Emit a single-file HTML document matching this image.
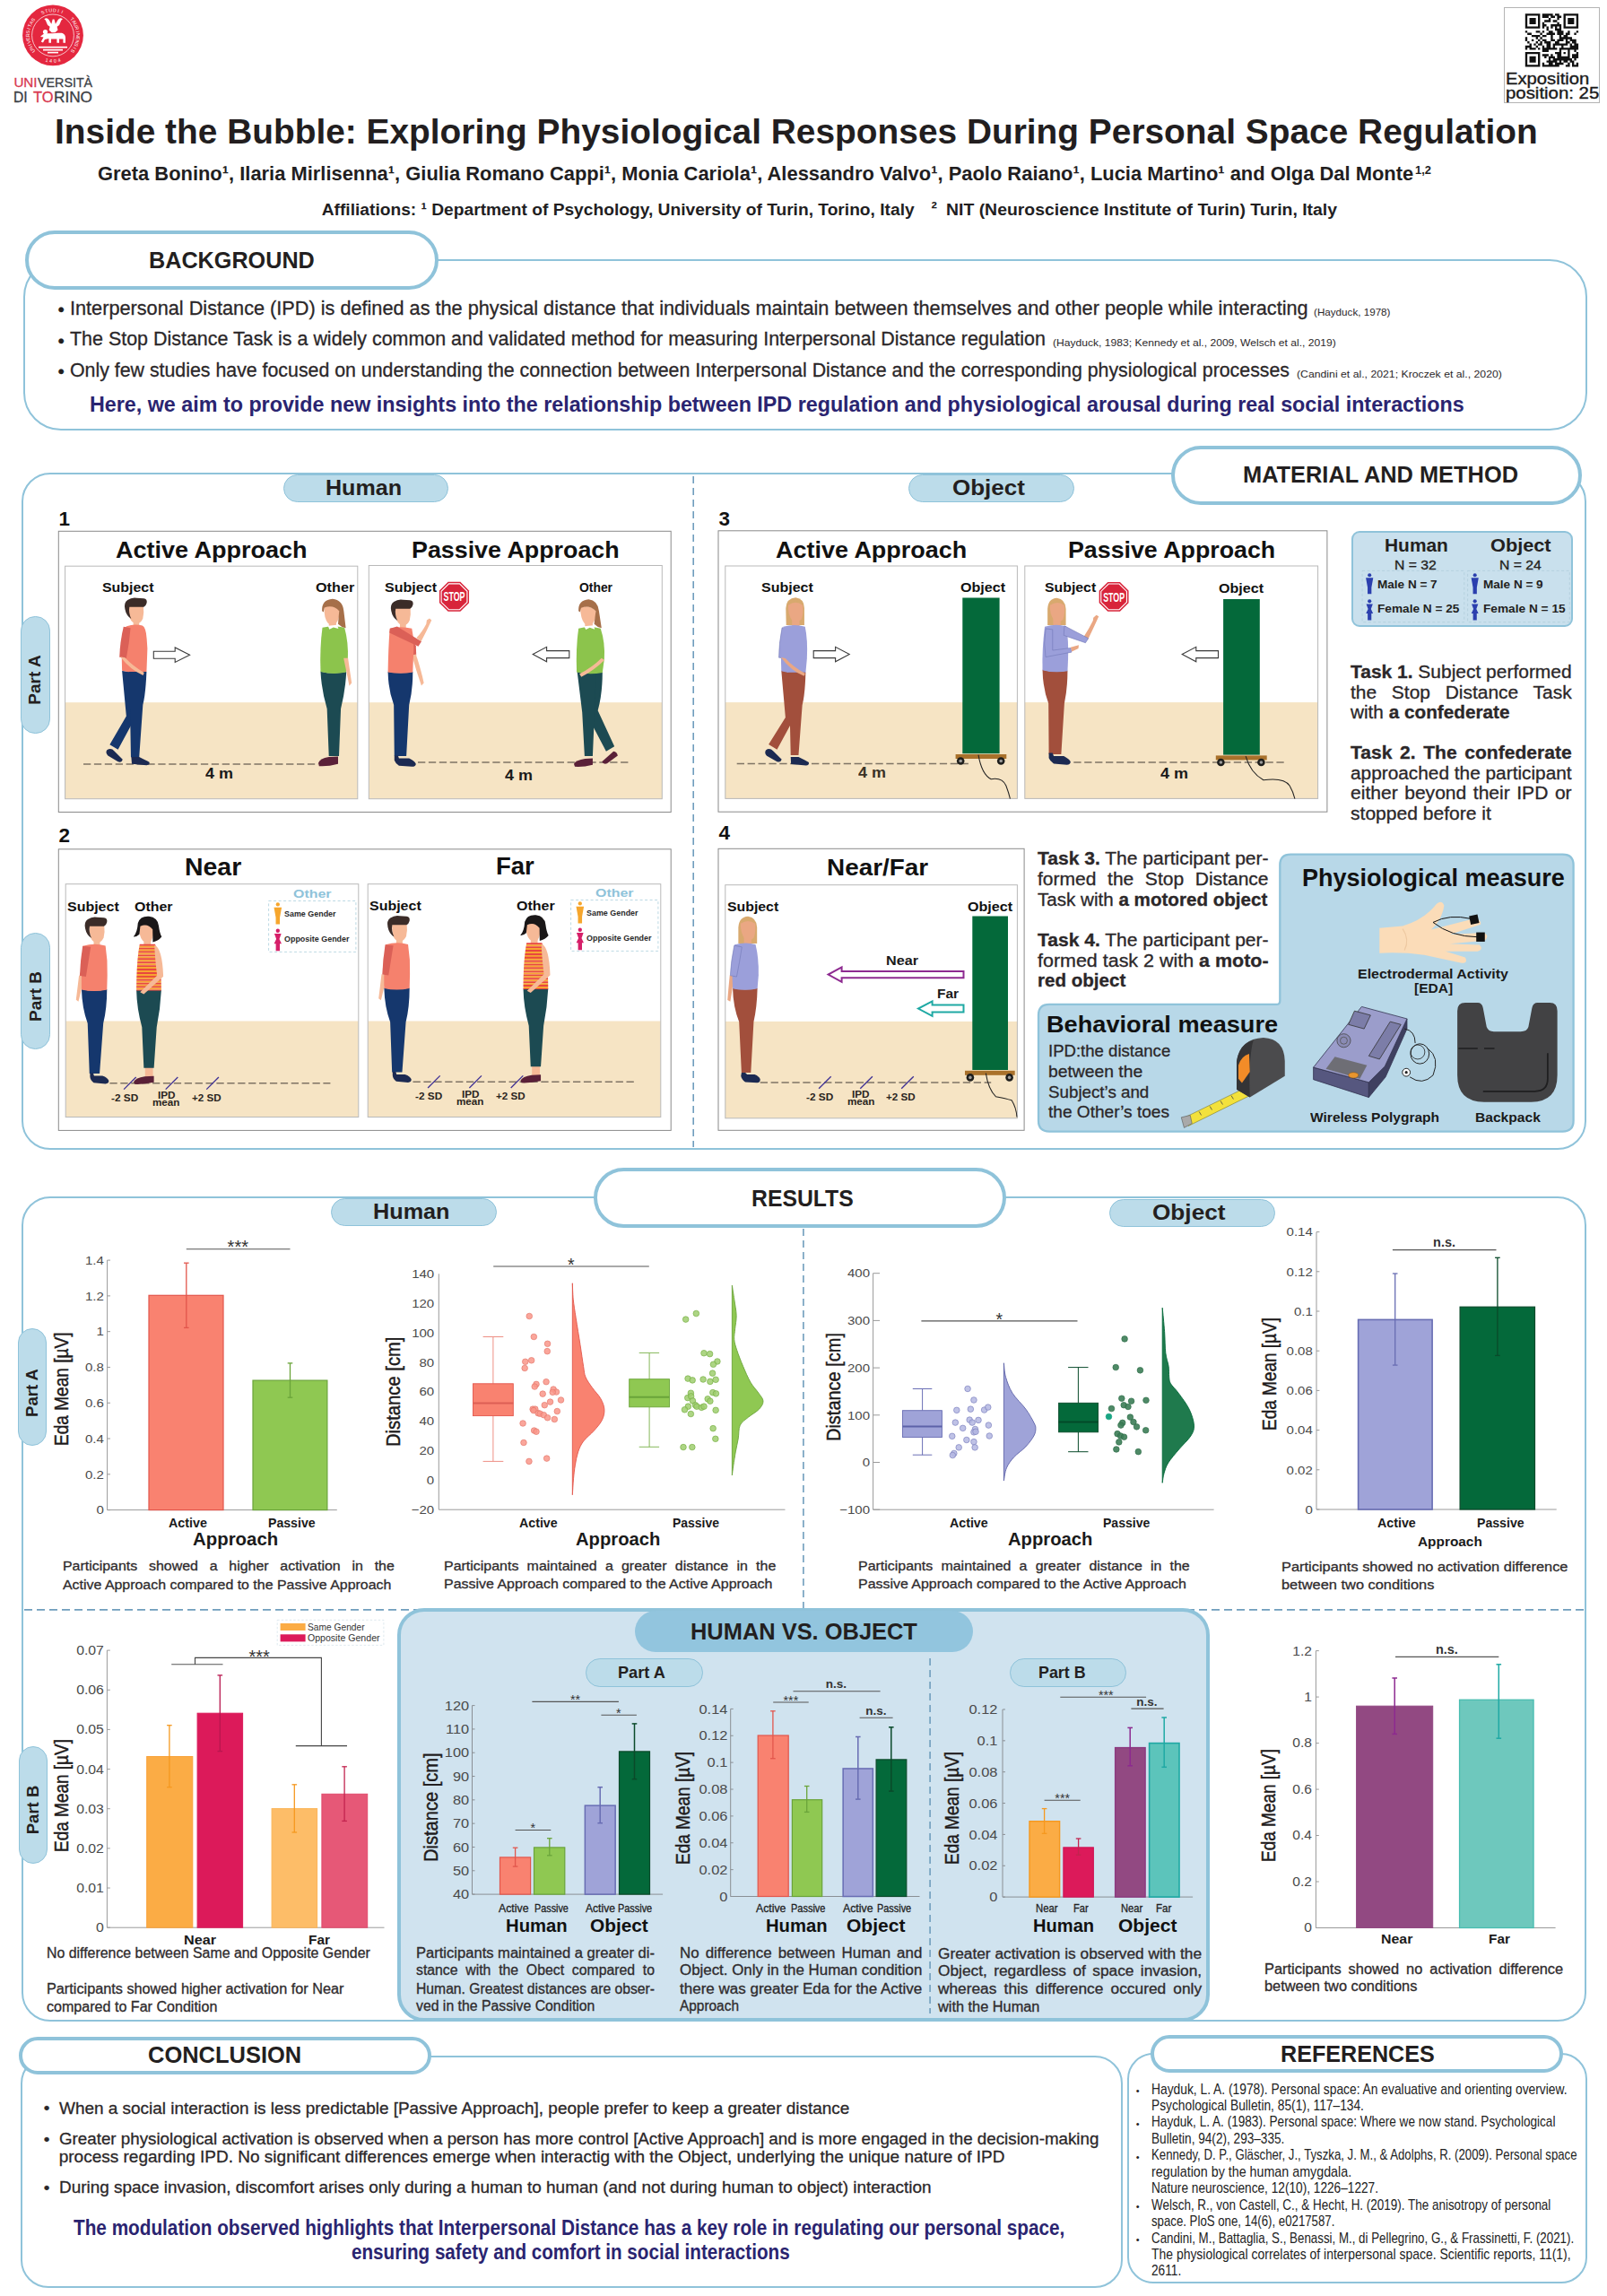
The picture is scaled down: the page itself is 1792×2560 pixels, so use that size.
<!DOCTYPE html>
<html><head><meta charset="utf-8"><title>Inside the Bubble</title>
<style>
html,body{margin:0;padding:0;background:#fff}
body{width:1792px;height:2560px;position:relative;overflow:hidden;font-family:"Liberation Sans",sans-serif}
.a{position:absolute}
.t{position:absolute;white-space:pre;line-height:1;transform-origin:0 0;display:block}
svg{overflow:visible}
svg text{font-family:"Liberation Sans",sans-serif}
</style></head><body>
<svg class="a" style="left:0;top:0" width="240" height="130" viewBox="0 0 240 130">
<circle cx="59" cy="39.4" r="33.9" fill="#e4273f"/>
<circle cx="59" cy="39.4" r="23.4" fill="none" stroke="#fff" stroke-width="0.7"/>
<text x="38.35" y="55.53" transform="rotate(-128.0 38.35 55.53)" text-anchor="middle" font-size="5.3" font-family="Liberation Sans, sans-serif" fill="#fff">U</text><text x="36.40" y="52.66" transform="rotate(-120.4 36.40 52.66)" text-anchor="middle" font-size="5.3" font-family="Liberation Sans, sans-serif" fill="#fff">N</text><text x="34.85" y="49.55" transform="rotate(-112.8 34.85 49.55)" text-anchor="middle" font-size="5.3" font-family="Liberation Sans, sans-serif" fill="#fff">I</text><text x="33.72" y="46.27" transform="rotate(-105.2 33.72 46.27)" text-anchor="middle" font-size="5.3" font-family="Liberation Sans, sans-serif" fill="#fff">V</text><text x="33.03" y="42.87" transform="rotate(-97.6 33.03 42.87)" text-anchor="middle" font-size="5.3" font-family="Liberation Sans, sans-serif" fill="#fff">E</text><text x="32.80" y="39.40" transform="rotate(-90.0 32.80 39.40)" text-anchor="middle" font-size="5.3" font-family="Liberation Sans, sans-serif" fill="#fff">R</text><text x="33.03" y="35.93" transform="rotate(-82.4 33.03 35.93)" text-anchor="middle" font-size="5.3" font-family="Liberation Sans, sans-serif" fill="#fff">S</text><text x="33.72" y="32.53" transform="rotate(-74.8 33.72 32.53)" text-anchor="middle" font-size="5.3" font-family="Liberation Sans, sans-serif" fill="#fff">I</text><text x="34.85" y="29.25" transform="rotate(-67.2 34.85 29.25)" text-anchor="middle" font-size="5.3" font-family="Liberation Sans, sans-serif" fill="#fff">T</text><text x="36.40" y="26.14" transform="rotate(-59.6 36.40 26.14)" text-anchor="middle" font-size="5.3" font-family="Liberation Sans, sans-serif" fill="#fff">A</text><text x="38.35" y="23.27" transform="rotate(-52.0 38.35 23.27)" text-anchor="middle" font-size="5.3" font-family="Liberation Sans, sans-serif" fill="#fff">S</text><text x="48.34" y="15.47" transform="rotate(-24.0 48.34 15.47)" text-anchor="middle" font-size="5.3" font-family="Liberation Sans, sans-serif" fill="#fff">S</text><text x="52.31" y="14.07" transform="rotate(-14.8 52.31 14.07)" text-anchor="middle" font-size="5.3" font-family="Liberation Sans, sans-serif" fill="#fff">T</text><text x="56.44" y="13.33" transform="rotate(-5.6 56.44 13.33)" text-anchor="middle" font-size="5.3" font-family="Liberation Sans, sans-serif" fill="#fff">U</text><text x="60.65" y="13.25" transform="rotate(3.6 60.65 13.25)" text-anchor="middle" font-size="5.3" font-family="Liberation Sans, sans-serif" fill="#fff">D</text><text x="64.80" y="13.85" transform="rotate(12.8 64.80 13.85)" text-anchor="middle" font-size="5.3" font-family="Liberation Sans, sans-serif" fill="#fff">I</text><text x="68.81" y="15.11" transform="rotate(22.0 68.81 15.11)" text-anchor="middle" font-size="5.3" font-family="Liberation Sans, sans-serif" fill="#fff">I</text><text x="79.07" y="22.56" transform="rotate(50.0 79.07 22.56)" text-anchor="middle" font-size="5.3" font-family="Liberation Sans, sans-serif" fill="#fff">T</text><text x="81.17" y="25.44" transform="rotate(57.8 81.17 25.44)" text-anchor="middle" font-size="5.3" font-family="Liberation Sans, sans-serif" fill="#fff">A</text><text x="82.86" y="28.58" transform="rotate(65.6 82.86 28.58)" text-anchor="middle" font-size="5.3" font-family="Liberation Sans, sans-serif" fill="#fff">U</text><text x="84.11" y="31.91" transform="rotate(73.4 84.11 31.91)" text-anchor="middle" font-size="5.3" font-family="Liberation Sans, sans-serif" fill="#fff">R</text><text x="84.89" y="35.39" transform="rotate(81.2 84.89 35.39)" text-anchor="middle" font-size="5.3" font-family="Liberation Sans, sans-serif" fill="#fff">I</text><text x="85.20" y="38.94" transform="rotate(89.0 85.20 38.94)" text-anchor="middle" font-size="5.3" font-family="Liberation Sans, sans-serif" fill="#fff">N</text><text x="85.02" y="42.50" transform="rotate(96.8 85.02 42.50)" text-anchor="middle" font-size="5.3" font-family="Liberation Sans, sans-serif" fill="#fff">E</text><text x="84.35" y="46.00" transform="rotate(104.6 84.35 46.00)" text-anchor="middle" font-size="5.3" font-family="Liberation Sans, sans-serif" fill="#fff">N</text><text x="83.22" y="49.38" transform="rotate(112.4 83.22 49.38)" text-anchor="middle" font-size="5.3" font-family="Liberation Sans, sans-serif" fill="#fff">S</text><text x="81.64" y="52.58" transform="rotate(120.2 81.64 52.58)" text-anchor="middle" font-size="5.3" font-family="Liberation Sans, sans-serif" fill="#fff">I</text><text x="79.65" y="55.53" transform="rotate(128.0 79.65 55.53)" text-anchor="middle" font-size="5.3" font-family="Liberation Sans, sans-serif" fill="#fff">S</text><text x="51.67" y="68.80" transform="rotate(374.0 51.67 68.80)" text-anchor="middle" font-size="5.3" font-family="Liberation Sans, sans-serif" fill="#fff">1</text><text x="56.53" y="69.60" transform="rotate(364.7 56.53 69.60)" text-anchor="middle" font-size="5.3" font-family="Liberation Sans, sans-serif" fill="#fff">4</text><text x="61.47" y="69.60" transform="rotate(355.3 61.47 69.60)" text-anchor="middle" font-size="5.3" font-family="Liberation Sans, sans-serif" fill="#fff">0</text><text x="66.33" y="68.80" transform="rotate(346.0 66.33 68.80)" text-anchor="middle" font-size="5.3" font-family="Liberation Sans, sans-serif" fill="#fff">4</text>
<g fill="#fff">
<path d="M49.300 21.200q3-2.200 5.200.8l2.800 4.800 1.400-5.300h1.800l1.400 5.300 2.800-4.800q2.200-3 5.200-.8-2 .9-2.500 3.800-.5 3-3.800 4.800l.9 3.800-3 2.600h-3.800l-3-2.600.9-3.800q-3.300-1.800-3.800-4.800-.5-2.900-2.500-3.800z"/>
<path d="M45 41c2-3 5-4.200 8-3.800 4 .5 10-.4 14.500-.4 3 0 5.500 2 5.500 5v6h-2.600v-4.300h-4.400v4.300h-2.600v-4.300h-6.400v4.300h-2.600v-4.800l-4.400 1-2 3.500-2.200-1 2.700-5z"/>
<circle cx="50.500" cy="35.500" r="2.600"/>
<rect x="43" y="51.800" width="32" height="1.700"/><rect x="48" y="54.800" width="22" height="1.700"/><rect x="53" y="57.800" width="12" height="1.600"/>
</g>
</svg>
<span class="t" style="left:15.4px;top:83.5px;font-size:15.2px;color:#d8374f;-webkit-text-stroke:0.3px #d8374f;">UNI</span>
<span class="t" style="left:41.8px;top:83.5px;font-size:15.2px;color:#3b4045;transform:scaleX(0.9410);-webkit-text-stroke:0.3px #3b4045;">VERSITÀ</span>
<span class="t" style="left:15.4px;top:101.2px;font-size:15.8px;color:#3b4045;transform:scaleX(0.9873);-webkit-text-stroke:0.3px #3b4045;">DI</span>
<span class="t" style="left:37.0px;top:101.2px;font-size:15.8px;color:#d8374f;transform:scaleX(1.0390);-webkit-text-stroke:0.3px #d8374f;">TO</span>
<span class="t" style="left:60.0px;top:101.2px;font-size:15.8px;color:#3b4045;transform:scaleX(1.0886);-webkit-text-stroke:0.3px #3b4045;">RINO</span>
<div class="a" style="left:1677.100px;top:8.200px;width:106.800px;height:106.400px;border:1px solid #b4b4b4;box-sizing:border-box"></div>
<svg class="a" style="left:0;top:0" width="1792" height="130"><path d="M1700.80 15.20h16.60v2.42h-16.60zM1719.78 15.20h11.86v2.42h-11.86zM1734.01 15.20h4.74v2.42h-4.74zM1743.50 15.20h16.60v2.42h-16.60zM1700.80 17.57h2.37v2.42h-2.37zM1715.03 17.57h2.37v2.42h-2.37zM1719.78 17.57h7.12v2.42h-7.12zM1729.26 17.57h4.74v2.42h-4.74zM1736.38 17.57h4.74v2.42h-4.74zM1743.50 17.57h2.37v2.42h-2.37zM1757.73 17.57h2.37v2.42h-2.37zM1700.80 19.94h2.37v2.42h-2.37zM1705.54 19.94h7.12v2.42h-7.12zM1715.03 19.94h2.37v2.42h-2.37zM1726.89 19.94h2.37v2.42h-2.37zM1736.38 19.94h2.37v2.42h-2.37zM1743.50 19.94h2.37v2.42h-2.37zM1748.24 19.94h7.12v2.42h-7.12zM1757.73 19.94h2.37v2.42h-2.37zM1700.80 22.32h2.37v2.42h-2.37zM1705.54 22.32h7.12v2.42h-7.12zM1715.03 22.32h2.37v2.42h-2.37zM1722.15 22.32h7.12v2.42h-7.12zM1731.64 22.32h4.74v2.42h-4.74zM1743.50 22.32h2.37v2.42h-2.37zM1748.24 22.32h7.12v2.42h-7.12zM1757.73 22.32h2.37v2.42h-2.37zM1700.80 24.69h2.37v2.42h-2.37zM1705.54 24.69h7.12v2.42h-7.12zM1715.03 24.69h2.37v2.42h-2.37zM1719.78 24.69h2.37v2.42h-2.37zM1736.38 24.69h2.37v2.42h-2.37zM1743.50 24.69h2.37v2.42h-2.37zM1748.24 24.69h7.12v2.42h-7.12zM1757.73 24.69h2.37v2.42h-2.37zM1700.80 27.06h2.37v2.42h-2.37zM1715.03 27.06h2.37v2.42h-2.37zM1719.78 27.06h4.74v2.42h-4.74zM1729.26 27.06h11.86v2.42h-11.86zM1743.50 27.06h2.37v2.42h-2.37zM1757.73 27.06h2.37v2.42h-2.37zM1700.80 29.43h16.60v2.42h-16.60zM1719.78 29.43h2.37v2.42h-2.37zM1724.52 29.43h2.37v2.42h-2.37zM1729.26 29.43h2.37v2.42h-2.37zM1734.01 29.43h2.37v2.42h-2.37zM1738.75 29.43h2.37v2.42h-2.37zM1743.50 29.43h16.60v2.42h-16.60zM1724.52 31.80h2.37v2.42h-2.37zM1734.01 31.80h7.12v2.42h-7.12zM1700.80 34.18h2.37v2.42h-2.37zM1712.66 34.18h4.74v2.42h-4.74zM1719.78 34.18h2.37v2.42h-2.37zM1726.89 34.18h4.74v2.42h-4.74zM1736.38 34.18h7.12v2.42h-7.12zM1748.24 34.18h2.37v2.42h-2.37zM1757.73 34.18h2.37v2.42h-2.37zM1703.17 36.55h4.74v2.42h-4.74zM1717.40 36.55h2.37v2.42h-2.37zM1724.52 36.55h9.49v2.42h-9.49zM1736.38 36.55h7.12v2.42h-7.12zM1745.87 36.55h4.74v2.42h-4.74zM1755.36 36.55h2.37v2.42h-2.37zM1707.92 38.92h9.49v2.42h-9.49zM1719.78 38.92h4.74v2.42h-4.74zM1729.26 38.92h2.37v2.42h-2.37zM1738.75 38.92h2.37v2.42h-2.37zM1743.50 38.92h4.74v2.42h-4.74zM1700.80 41.29h2.37v2.42h-2.37zM1712.66 41.29h2.37v2.42h-2.37zM1717.40 41.29h2.37v2.42h-2.37zM1729.26 41.29h2.37v2.42h-2.37zM1738.75 41.29h14.23v2.42h-14.23zM1700.80 43.66h2.37v2.42h-2.37zM1707.92 43.66h2.37v2.42h-2.37zM1715.03 43.66h2.37v2.42h-2.37zM1719.78 43.66h4.74v2.42h-4.74zM1729.26 43.66h4.74v2.42h-4.74zM1736.38 43.66h7.12v2.42h-7.12zM1745.87 43.66h2.37v2.42h-2.37zM1750.61 43.66h7.12v2.42h-7.12zM1703.17 46.04h2.37v2.42h-2.37zM1712.66 46.04h2.37v2.42h-2.37zM1717.40 46.04h2.37v2.42h-2.37zM1722.15 46.04h7.12v2.42h-7.12zM1734.01 46.04h4.74v2.42h-4.74zM1745.87 46.04h4.74v2.42h-4.74zM1752.98 46.04h4.74v2.42h-4.74zM1705.54 48.41h2.37v2.42h-2.37zM1710.29 48.41h2.37v2.42h-2.37zM1715.03 48.41h4.74v2.42h-4.74zM1724.52 48.41h4.74v2.42h-4.74zM1731.64 48.41h16.60v2.42h-16.60zM1750.61 48.41h2.37v2.42h-2.37zM1755.36 48.41h4.74v2.42h-4.74zM1700.80 50.78h7.12v2.42h-7.12zM1712.66 50.78h2.37v2.42h-2.37zM1719.78 50.78h2.37v2.42h-2.37zM1724.52 50.78h4.74v2.42h-4.74zM1731.64 50.78h2.37v2.42h-2.37zM1741.12 50.78h2.37v2.42h-2.37zM1750.61 50.78h9.49v2.42h-9.49zM1700.80 53.15h2.37v2.42h-2.37zM1705.54 53.15h7.12v2.42h-7.12zM1715.03 53.15h2.37v2.42h-2.37zM1719.78 53.15h16.60v2.42h-16.60zM1738.75 53.15h21.35v2.42h-21.35zM1719.78 55.52h7.12v2.42h-7.12zM1738.75 55.52h2.37v2.42h-2.37zM1748.24 55.52h2.37v2.42h-2.37zM1755.36 55.52h2.37v2.42h-2.37zM1700.80 57.90h16.60v2.42h-16.60zM1734.01 57.90h7.12v2.42h-7.12zM1743.50 57.90h2.37v2.42h-2.37zM1748.24 57.90h2.37v2.42h-2.37zM1757.73 57.90h2.37v2.42h-2.37zM1700.80 60.27h2.37v2.42h-2.37zM1715.03 60.27h2.37v2.42h-2.37zM1719.78 60.27h7.12v2.42h-7.12zM1729.26 60.27h2.37v2.42h-2.37zM1736.38 60.27h4.74v2.42h-4.74zM1748.24 60.27h2.37v2.42h-2.37zM1752.98 60.27h7.12v2.42h-7.12zM1700.80 62.64h2.37v2.42h-2.37zM1705.54 62.64h7.12v2.42h-7.12zM1715.03 62.64h2.37v2.42h-2.37zM1722.15 62.64h2.37v2.42h-2.37zM1726.89 62.64h7.12v2.42h-7.12zM1736.38 62.64h14.23v2.42h-14.23zM1752.98 62.64h7.12v2.42h-7.12zM1700.80 65.01h2.37v2.42h-2.37zM1705.54 65.01h7.12v2.42h-7.12zM1715.03 65.01h2.37v2.42h-2.37zM1726.89 65.01h2.37v2.42h-2.37zM1731.64 65.01h21.35v2.42h-21.35zM1755.36 65.01h2.37v2.42h-2.37zM1700.80 67.38h2.37v2.42h-2.37zM1705.54 67.38h7.12v2.42h-7.12zM1715.03 67.38h2.37v2.42h-2.37zM1724.52 67.38h11.86v2.42h-11.86zM1738.75 67.38h2.37v2.42h-2.37zM1743.50 67.38h4.74v2.42h-4.74zM1750.61 67.38h4.74v2.42h-4.74zM1700.80 69.76h2.37v2.42h-2.37zM1715.03 69.76h2.37v2.42h-2.37zM1719.78 69.76h2.37v2.42h-2.37zM1726.89 69.76h4.74v2.42h-4.74zM1734.01 69.76h9.49v2.42h-9.49zM1748.24 69.76h2.37v2.42h-2.37zM1752.98 69.76h2.37v2.42h-2.37zM1757.73 69.76h2.37v2.42h-2.37zM1700.80 72.13h16.60v2.42h-16.60zM1719.78 72.13h18.98v2.42h-18.98zM1745.87 72.13h4.74v2.42h-4.74zM1752.98 72.13h7.12v2.42h-7.12z" fill="#111"/></svg>
<span class="t" style="left:1678.7px;top:79.6px;font-size:17.6px;color:#1a1a1a;transform:scaleX(1.1489);-webkit-text-stroke:0.35px #1a1a1a;">Exposition</span>
<span class="t" style="left:1678.7px;top:95.6px;font-size:17.6px;color:#1a1a1a;transform:scaleX(1.1586);-webkit-text-stroke:0.35px #1a1a1a;">position: 25</span>
<span class="t" style="left:60.5px;top:127.7px;font-size:38.4px;color:#221e1f;font-weight:700;transform:scaleX(1.0121);">Inside the Bubble: Exploring Physiological Responses During Personal Space Regulation</span>
<span class="t" style="left:109.0px;top:183.1px;font-size:22.3px;color:#221e1f;font-weight:700;transform:scaleX(0.9825);">Greta Bonino¹, Ilaria Mirlisenna¹, Giulia Romano Cappi¹, Monia Cariola¹, Alessandro Valvo¹, Paolo Raiano¹, Lucia Martino¹ and Olga Dal Monte</span>
<span class="t" style="left:1577.6px;top:183.9px;font-size:12.5px;color:#221e1f;font-weight:700;transform:scaleX(1.0359);">1,2</span>
<span class="t" style="left:358.7px;top:223.5px;font-size:19.2px;color:#221e1f;font-weight:700;">Affiliations: ¹ Department of Psychology, University of Turin, Torino, Italy</span>
<span class="t" style="left:1038.5px;top:223.0px;font-size:19.2px;color:#221e1f;font-weight:700;">²</span>
<span class="t" style="left:1055.4px;top:223.5px;font-size:19.2px;color:#221e1f;font-weight:700;transform:scaleX(1.0116);">NIT (Neuroscience Institute of Turin) Turin, Italy</span>
<div class="a" style="left:25.5px;top:288.5px;width:1744px;height:191px;border:2.6px solid #8fc3da;border-radius:42px;box-sizing:border-box"></div>
<div class="a" style="left:28px;top:257px;width:460.500px;height:66px;border:4.6px solid #8fc3da;border-radius:33px;box-sizing:border-box;background:#fff"></div>
<span class="t" style="left:166.2px;top:276.9px;font-size:26.3px;color:#231f20;font-weight:700;transform:scaleX(0.9582);">BACKGROUND</span>
<span class="t" style="left:64.5px;top:334.0px;font-size:21px;color:#231f20;-webkit-text-stroke:0.3px #231f20;">•</span>
<span class="t" style="left:78.4px;top:332.7px;font-size:22px;color:#2b2729;transform:scaleX(0.9860);-webkit-text-stroke:0.3px #2b2729;">Interpersonal Distance (IPD) is defined as the physical distance that individuals maintain between themselves and other people while interacting</span>
<span class="t" style="left:1464.5px;top:342.9px;font-size:11.3px;color:#2b2729;transform:scaleX(1.0313);">(Hayduck, 1978)</span>
<span class="t" style="left:64.5px;top:368.5px;font-size:21px;color:#231f20;-webkit-text-stroke:0.3px #231f20;">•</span>
<span class="t" style="left:78.4px;top:367.2px;font-size:22px;color:#2b2729;transform:scaleX(0.9748);-webkit-text-stroke:0.3px #2b2729;">The Stop Distance Task is a widely common and validated method for measuring Interpersonal Distance regulation</span>
<span class="t" style="left:1174.2px;top:377.4px;font-size:11.3px;color:#2b2729;transform:scaleX(1.0704);">(Hayduck, 1983; Kennedy et al., 2009, Welsch et al., 2019)</span>
<span class="t" style="left:64.5px;top:403.1px;font-size:21px;color:#231f20;-webkit-text-stroke:0.3px #231f20;">•</span>
<span class="t" style="left:78.4px;top:401.8px;font-size:22px;color:#2b2729;transform:scaleX(0.9695);-webkit-text-stroke:0.3px #2b2729;">Only few studies have focused on understanding the connection between Interpersonal Distance and the corresponding physiological processes</span>
<span class="t" style="left:1446.0px;top:412.0px;font-size:11.3px;color:#2b2729;transform:scaleX(1.0846);">(Candini et al., 2021; Kroczek et al., 2020)</span>
<span class="t" style="left:100.0px;top:439.9px;font-size:23.3px;color:#2a2470;font-weight:700;">Here, we aim to provide new insights into the relationship between IPD regulation and physiological arousal during real social interactions</span>
<div class="a" style="left:23.900px;top:527px;width:1745px;height:755.300px;border:2.700px solid #8fc3da;border-radius:32px;box-sizing:border-box"></div>
<div class="a" style="left:1305.500px;top:497px;width:458.500px;height:65.500px;border:4.600px solid #8fc3da;border-radius:33px;box-sizing:border-box;background:#fff"></div>
<span class="t" style="left:1386.0px;top:516.1px;font-size:26.3px;color:#231f20;font-weight:700;transform:scaleX(0.9654);">MATERIAL AND METHOD</span>
<div class="a" style="left:316.3px;top:528.5px;width:184px;height:31.5px;background:#bcdcea;border:1.600px solid #8fc3da;border-radius:15.75px;box-sizing:border-box"></div>
<span class="t" style="left:363.0px;top:531.5px;font-size:24.5px;color:#231f20;font-weight:700;transform:scaleX(1.0237);">Human</span>
<div class="a" style="left:1013px;top:528.5px;width:184.5px;height:31.5px;background:#bcdcea;border:1.600px solid #8fc3da;border-radius:15.75px;box-sizing:border-box"></div>
<span class="t" style="left:1061.8px;top:531.5px;font-size:24.5px;color:#231f20;font-weight:700;transform:scaleX(1.0611);">Object</span>
<div class="a" style="left:23.3px;top:686.6px;width:32.3px;height:131px;background:#bcdcea;border:1.600px solid #8fc3da;border-radius:16.15px;box-sizing:border-box"></div>
<div class="a" style="left:-20.549999999999997px;top:746.1px;width:120px;height:24px;line-height:24px;text-align:center;font-weight:700;font-size:19px;color:#231f20;transform:rotate(-90deg)">Part A</div>
<div class="a" style="left:23.3px;top:1039.9px;width:32.5px;height:130.5px;background:#bcdcea;border:1.600px solid #8fc3da;border-radius:16.25px;box-sizing:border-box"></div>
<div class="a" style="left:-20.450000000000003px;top:1099.15px;width:120px;height:24px;line-height:24px;text-align:center;font-weight:700;font-size:19px;color:#231f20;transform:rotate(-90deg)">Part B</div>
<svg class="a" style="left:0;top:0" width="1792" height="1300"><line x1="773.200" y1="531" x2="773.200" y2="1279" stroke="#6f9dbd" stroke-width="1.600" stroke-dasharray="8 5"/></svg>
<span class="t" style="left:65.6px;top:567.6px;font-size:22.5px;color:#111;font-weight:700;">1</span>
<span class="t" style="left:65.6px;top:921.0px;font-size:22.5px;color:#111;font-weight:700;">2</span>
<span class="t" style="left:801.6px;top:568.2px;font-size:22.5px;color:#111;font-weight:700;">3</span>
<span class="t" style="left:801.6px;top:917.6px;font-size:22.5px;color:#111;font-weight:700;">4</span>
<svg class="a" style="left:0;top:0" width="1792" height="1300" viewBox="0 0 1792 1300"><rect x="65.3" y="592.3" width="682.9000000000001" height="313.20000000000005" fill="#fff" stroke="#8a8a8a" stroke-width="1"/><rect x="65.3" y="946.8" width="682.9000000000001" height="313.60000000000014" fill="#fff" stroke="#8a8a8a" stroke-width="1"/><rect x="801" y="591.8" width="678.9000000000001" height="313.4000000000001" fill="#fff" stroke="#8a8a8a" stroke-width="1"/><rect x="801" y="946.3" width="341.0999999999999" height="314.0" fill="#fff" stroke="#8a8a8a" stroke-width="1"/><rect x="72.6" y="631.2" width="326.20000000000005" height="259.5" fill="#fff"/><rect x="72.6" y="783.2" width="326.20000000000005" height="107.5" fill="#f6e4c4"/><rect x="72.6" y="631.2" width="326.20000000000005" height="259.5" fill="none" stroke="#b9b9b9" stroke-width="1"/><line x1="93" y1="851.9" x2="355" y2="851.9" stroke="#7f7364" stroke-width="1.5" stroke-dasharray="8.300 3.600"/><g transform="translate(70.00 630.00) scale(0.20534) "><path d="M322 575 L402 585 L382 850 L300 1002 L255 975 L345 820Z" fill="#15376d"/><path d="M240 1005 Q262 990 280 1010 L325 1055 Q320 1075 300 1068 L245 1035 Q230 1020 240 1005Z" fill="#1c2a52"/><path d="M383 300 h32 v38 h-32z" fill="#f6b997"/><path d="M347 332 Q390 318 432 329 Q452 338 456 400 Q462 450 458 500 L455 580 Q390 592 322 574 Q318 450 323 385 Q326 342 347 332Z" fill="#f5816d"/><path d="M358 580 L455 580 Q450 700 435 760 L415 1044 L370 1044 L365 760Z" fill="#15376d"/><path d="M330 335 Q310 420 308 500 L345 506 Q362 420 368 342Z" fill="#db6057"/><path d="M372 1042 L415 1042 Q450 1060 470 1070 Q475 1085 455 1087 L375 1080Z" fill="#1c2a52"/><path d="M312 498 L338 503 Q380 548 442 585 L436 599 Q368 570 312 498Z" fill="#f6b997"/><path d="M358 222 L438 222 Q442 260 435 290 Q425 318 400 318 Q375 315 365 290 Q355 260 358 222Z" fill="#f6b997"/><path d="M338 240 Q330 205 352 190 Q375 174 402 179 L440 181 Q460 184 456 206 Q452 222 440 228 L362 228 Q356 260 372 292 Q345 276 338 240Z" fill="#3b2c28"/></g><g transform="translate(70.00 630.00) scale(0.20534) "><path d="M1445 308 h40 v36 h-40z" fill="#f6b997"/><path d="M1400 578 Q1470 595 1540 580 Q1535 680 1510 780 L1500 1037 L1445 1037 L1435 780 Q1405 680 1400 578Z" fill="#1c4a52"/><path d="M1410 340 Q1470 325 1530 340 Q1552 420 1548 510 L1538 582 Q1470 597 1400 580 Q1395 450 1410 340Z" fill="#8cc44c"/><path d="M1525 505 L1549 505 Q1560 580 1569 640 L1556 656 Q1545 600 1525 505Z" fill="#f6b997"/><path d="M1440 330 L1490 325 L1497 346 L1470 338 L1448 349Z" fill="#fff"/><path d="M1388 1075 Q1395 1050 1445 1042 L1495 1040 L1495 1080 Q1440 1095 1392 1092Z" fill="#5a2038"/><path d="M1420 228 Q1470 212 1502 245 Q1505 290 1485 315 Q1460 330 1440 315 Q1418 290 1420 228Z" fill="#f6b997"/><path d="M1408 250 Q1405 188 1465 184 Q1520 190 1526 250 L1537 342 Q1510 336 1495 320 L1501 250 Q1470 214 1421 231 L1416 256Z" fill="#a66f49"/></g><path d="M171.3 726.2 H195.2 V721.95 L211.6 730.2 L195.2 738.45 V734.2 H171.3Z" fill="#fff" stroke="#3a3a3a" stroke-width="1.1" stroke-linejoin="miter"/><rect x="411.3" y="630.5" width="326.99999999999994" height="260.20000000000005" fill="#fff"/><rect x="411.3" y="783.2" width="326.99999999999994" height="107.5" fill="#f6e4c4"/><rect x="411.3" y="630.5" width="326.99999999999994" height="260.20000000000005" fill="none" stroke="#b9b9b9" stroke-width="1"/><line x1="466" y1="849.9" x2="702.5" y2="849.9" stroke="#7f7364" stroke-width="1.5" stroke-dasharray="8.300 3.600"/><g transform="translate(410.00 630.00) scale(0.20534) "><path d="M236 400 L262 440 L264 490 L240 492Z" fill="#db6057"/><path d="M240 490 L262 485 Q290 570 305 640 L292 655 Q265 580 240 490Z" fill="#f6b997"/><path d="M175 312 h33 v36 h-33z" fill="#f6b997"/><path d="M110 580 Q180 592 245 580 Q245 680 225 760 L210 1037 L145 1037 L142 760 Q112 680 110 580Z" fill="#15376d"/><path d="M120 345 Q180 330 240 345 Q255 420 248 500 L245 582 Q180 594 110 582 Q112 450 120 345Z" fill="#f5816d"/><path d="M265 395 L290 415 Q320 360 347 300 L336 290 L321 300 L318 320 Q295 365 265 395Z" fill="#f6b997"/><path d="M122 345 L160 333 L292 415 L275 442 L118 368Z" fill="#db6057"/><path d="M145 1035 L165 1035 L170 1050 L225 1050 Q255 1065 262 1080 Q262 1095 240 1095 L170 1090 Q150 1075 145 1060Z" fill="#1c2a52"/><path d="M150 232 L232 232 Q236 270 228 300 Q218 328 192 328 Q168 325 158 300 Q148 270 150 232Z" fill="#f6b997"/><path d="M128 250 Q120 215 142 200 Q165 184 192 189 L230 191 Q250 194 246 216 Q242 232 230 238 L152 238 Q146 270 162 302 Q135 286 128 250Z" fill="#3b2c28"/></g><g transform="translate(410.00 630.00) scale(0.20534) "><path d="M1180 310 h42 v36 h-42z" fill="#f6b997"/><path d="M1180 585 L1275 582 Q1275 700 1250 790 L1340 985 L1295 1012 L1215 860Z" fill="#1c4a52"/><path d="M1272 1068 L1335 1012 Q1355 1015 1358 1035 L1300 1078 Q1280 1085 1272 1068Z" fill="#5a2038"/><path d="M1138 580 L1240 590 L1232 800 L1222 1037 L1178 1037 L1165 800Z" fill="#1c4a52"/><path d="M1145 345 Q1205 328 1265 345 Q1290 420 1285 510 L1275 584 Q1205 597 1135 582 Q1130 450 1145 345Z" fill="#8cc44c"/><path d="M1270 505 L1286 516 Q1230 572 1160 607 L1150 591 Q1220 555 1270 505Z" fill="#f6b997"/><path d="M1175 332 L1228 328 L1233 349 L1206 340 L1185 351Z" fill="#fff"/><path d="M1120 1080 Q1130 1060 1180 1052 L1222 1050 L1222 1085 Q1170 1098 1125 1095Z" fill="#5a2038"/><path d="M1155 230 Q1205 215 1240 248 Q1242 290 1222 318 Q1198 332 1178 318 Q1155 290 1155 230Z" fill="#f6b997"/><path d="M1145 250 Q1142 190 1200 186 Q1250 192 1256 250 L1270 342 Q1245 336 1230 320 L1239 250 Q1205 214 1159 233 L1153 256Z" fill="#a66f49"/></g><path d="M634.8 725.6 H609.6 V721.35 L594.2 729.6 L609.6 737.85 V733.6 H634.8Z" fill="#fff" stroke="#3a3a3a" stroke-width="1.1" stroke-linejoin="miter"/><polygon points="523.90,672.51 513.71,682.70 499.29,682.70 489.10,672.51 489.10,658.09 499.29,647.90 513.71,647.90 523.90,658.09" fill="#fff"/><polygon points="523.03,672.15 513.35,681.83 499.65,681.83 489.97,672.15 489.97,658.45 499.65,648.77 513.35,648.77 523.03,658.45" fill="#d8243a"/><polygon points="520.94,671.28 512.48,679.74 500.52,679.74 492.06,671.28 492.06,659.32 500.52,650.86 512.48,650.86 520.94,659.32" fill="none" stroke="#fff" stroke-width="1.13"/><text x="494.49" y="670.43" font-size="14.62" font-weight="700" fill="#fff" textLength="24.01" lengthAdjust="spacingAndGlyphs">STOP</text><rect x="808.8" y="631" width="325.60000000000014" height="259.4" fill="#fff"/><rect x="808.8" y="783.1" width="325.60000000000014" height="107.29999999999995" fill="#f6e4c4"/><rect x="808.8" y="631" width="325.60000000000014" height="259.4" fill="none" stroke="#b9b9b9" stroke-width="1"/><line x1="821.7" y1="851.4" x2="1081" y2="851.4" stroke="#7f7364" stroke-width="1.5" stroke-dasharray="8.300 3.600"/><rect x="1073.3" y="666.5" width="41.299999999999955" height="173.70000000000005" fill="#04693a"/><rect x="1065.6" y="841.0" width="56.700000000000045" height="5" fill="#a9712b"/><circle cx="1071.2" cy="848.5" r="4.3" fill="#1d1d1b"/><circle cx="1071.2" cy="848.5" r="1.81" fill="#9a9a9a"/><circle cx="1116.2" cy="848.5" r="4.3" fill="#1d1d1b"/><circle cx="1116.2" cy="848.5" r="1.81" fill="#9a9a9a"/><g transform="translate(805.00 630.00) scale(0.20846) "><path d="M1372 1015 Q1390 1120 1440 1145 Q1500 1135 1520 1180 Q1535 1220 1542 1250" fill="none" stroke="#222" stroke-width="5"/></g><g transform="translate(805.00 630.00) scale(0.20846) "><path d="M342 230 Q345 178 395 174 Q440 180 441 230 L441 322 L344 322Z" fill="#d8a96e"/><path d="M322 335 Q305 420 305 495 L345 499 Q360 420 362 345Z" fill="#9b9fda" stroke="#747ab8" stroke-width="3"/><path d="M318 565 L400 580 L375 840 L295 987 L250 960 L340 815Z" fill="#a24f3c"/><path d="M235 990 Q255 975 275 995 L320 1040 Q315 1058 295 1052 L240 1020 Q226 1005 235 990Z" fill="#1c2a52"/><path d="M375 288 h40 v40 h-40z" fill="#eaa783"/><path d="M328 330 Q390 312 445 330 Q460 400 455 500 L448 577 Q385 587 318 567 Q312 450 328 330Z" fill="#9b9fda"/><path d="M355 575 L448 575 Q445 690 430 750 L410 1017 L368 1017 L362 750Z" fill="#a24f3c"/><path d="M368 1027 L410 1027 Q445 1045 465 1055 Q468 1070 450 1072 L370 1065Z" fill="#1c2a52"/><path d="M316 494 L340 499 Q380 545 446 580 L439 594 Q370 566 316 494Z" fill="#eaa783"/><path d="M355 215 Q395 186 432 215 Q438 260 425 292 Q400 312 375 297 Q352 260 355 215Z" fill="#eaa783"/></g><path d="M907.2 725.6 H931.6 V721.35 L947.2 729.6 L931.6 737.85 V733.6 H907.2Z" fill="#fff" stroke="#3a3a3a" stroke-width="1.1" stroke-linejoin="miter"/><rect x="1142.8" y="631" width="326.79999999999995" height="259.4" fill="#fff"/><rect x="1142.8" y="783.1" width="326.79999999999995" height="107.29999999999995" fill="#f6e4c4"/><rect x="1142.8" y="631" width="326.79999999999995" height="259.4" fill="none" stroke="#b9b9b9" stroke-width="1"/><line x1="1197.3" y1="849.9" x2="1434" y2="849.9" stroke="#7f7364" stroke-width="1.5" stroke-dasharray="8.300 3.600"/><rect x="1364.1" y="668" width="40.700000000000045" height="173.60000000000002" fill="#04693a"/><rect x="1355.8" y="842.4" width="56.90000000000009" height="5" fill="#a9712b"/><circle cx="1361.4" cy="850" r="4.3" fill="#1d1d1b"/><circle cx="1361.4" cy="850" r="1.81" fill="#9a9a9a"/><circle cx="1406.4" cy="850" r="4.3" fill="#1d1d1b"/><circle cx="1406.4" cy="850" r="1.81" fill="#9a9a9a"/><g transform="translate(1140.00 630.00) scale(0.20846) "><path d="M1195 1022 Q1220 1110 1290 1150 Q1400 1135 1430 1180 Q1450 1215 1458 1250" fill="none" stroke="#222" stroke-width="5"/></g><g transform="translate(1140.00 630.00) scale(0.20846) "><path d="M135 235 Q138 178 185 176 Q231 182 233 235 L233 322 L135 322Z" fill="#d8a96e"/><path d="M165 288 h40 v40 h-40z" fill="#eaa783"/><path d="M108 560 Q175 578 242 565 Q242 660 225 740 L208 1012 L142 1012 L140 740 Q110 660 108 560Z" fill="#a24f3c"/><path d="M120 330 Q180 312 235 328 Q248 400 245 500 L242 567 Q175 580 108 562 Q105 450 120 330Z" fill="#9b9fda"/><path d="M328 385 L350 400 Q380 340 409 275 L396 268 L380 282 L378 298 Q355 345 328 385Z" fill="#eaa783"/><path d="M225 325 L353 392 L338 416 L222 376Z" fill="#9b9fda" stroke="#747ab8" stroke-width="3"/><path d="M258 440 L302 428 L300 446 L265 463Z" fill="#eaa783"/><path d="M125 340 Q112 420 125 492 L263 466 L258 444 L162 456 L162 345Z" fill="#9b9fda" stroke="#747ab8" stroke-width="3"/><path d="M142 1005 L162 1005 L168 1022 L222 1022 Q252 1038 258 1052 Q258 1068 238 1068 L168 1062 Q148 1048 142 1032Z" fill="#1c2a52"/><path d="M148 215 Q188 188 225 215 Q230 260 218 292 Q195 314 170 297 Q145 260 148 215Z" fill="#eaa783"/></g><path d="M1358.5 725.6 H1333.8 V721.35 L1318.2 729.6 L1333.8 737.85 V733.6 H1358.5Z" fill="#fff" stroke="#3a3a3a" stroke-width="1.1" stroke-linejoin="miter"/><polygon points="1259.40,672.57 1249.27,682.70 1234.93,682.70 1224.80,672.57 1224.80,658.23 1234.93,648.10 1249.27,648.10 1259.40,658.23" fill="#fff"/><polygon points="1258.53,672.21 1248.91,681.84 1235.29,681.84 1225.66,672.21 1225.66,658.59 1235.29,648.96 1248.91,648.96 1258.53,658.59" fill="#d8243a"/><polygon points="1256.46,671.35 1248.05,679.76 1236.15,679.76 1227.74,671.35 1227.74,659.45 1236.15,651.04 1248.05,651.04 1256.46,659.45" fill="none" stroke="#fff" stroke-width="1.12"/><text x="1230.16" y="670.50" font-size="14.53" font-weight="700" fill="#fff" textLength="23.87" lengthAdjust="spacingAndGlyphs">STOP</text><rect x="73.2" y="985.7" width="326.6" height="259.79999999999995" fill="#fff"/><rect x="73.2" y="1138.5" width="326.6" height="107.0" fill="#f6e4c4"/><rect x="73.2" y="985.7" width="326.6" height="259.79999999999995" fill="none" stroke="#b9b9b9" stroke-width="1"/><line x1="122.4" y1="1207.8" x2="368.4" y2="1207.8" stroke="#7f7364" stroke-width="1.5" stroke-dasharray="8.300 3.600"/><g transform="translate(70.00 985.00) scale(0.20534) "><path d="M88 500 L118 505 Q100 580 85 642 L72 632 Q80 570 88 500Z" fill="#f6b997"/><path d="M168 308 h34 v36 h-34z" fill="#f6b997"/><path d="M102 575 Q170 590 240 575 Q240 680 220 760 L200 1032 L145 1032 L135 760 Q105 680 102 575Z" fill="#15376d"/><path d="M110 340 Q170 322 232 338 Q245 420 242 500 L240 577 Q170 592 102 577 Q100 450 110 340Z" fill="#f5816d"/><path d="M108 340 Q95 420 92 502 L126 507 Q140 420 152 345Z" fill="#db6057"/><path d="M148 1030 L165 1030 L170 1045 L215 1045 Q245 1055 250 1072 Q250 1088 232 1088 L168 1082 Q150 1070 148 1050Z" fill="#1c2a52"/><path d="M145 228 L225 228 Q230 265 222 295 Q210 322 185 322 Q160 318 152 295 Q142 265 145 228Z" fill="#f6b997"/><path d="M122 245 Q114 210 136 195 Q159 179 186 184 L224 186 Q244 189 240 211 Q236 227 224 233 L146 233 Q140 265 156 297 Q129 281 122 245Z" fill="#3b2c28"/></g><g transform="translate(70.00 985.00) scale(0.20534) "><path d="M440 305 h38 v34 h-38z" fill="#f6b997"/><path d="M447 995 h43 v58 h-43z" fill="#f6b997"/><path d="M400 580 L535 580 Q530 680 510 780 L495 1002 L440 1002 L430 780 Q402 680 400 580Z" fill="#1c4a52"/><polygon points="417.9,330.0 501.2,330.0 505.1,339.8 416.2,339.8" fill="#e8473f"/><polygon points="416.2,339.5 505.1,339.5 508.7,349.3 414.5,349.3" fill="#f7a531"/><polygon points="414.5,349.0 508.7,349.0 511.8,358.8 413.0,358.8" fill="#e8473f"/><polygon points="413.0,358.5 511.8,358.5 514.5,368.3 411.6,368.3" fill="#f7a531"/><polygon points="411.6,368.0 514.5,368.0 517.0,377.8 410.4,377.8" fill="#e8473f"/><polygon points="410.4,377.5 517.0,377.5 519.2,387.3 409.2,387.3" fill="#f7a531"/><polygon points="409.2,387.0 519.2,387.0 521.1,396.8 408.2,396.8" fill="#e8473f"/><polygon points="408.2,396.5 521.1,396.5 522.9,406.3 407.2,406.3" fill="#f7a531"/><polygon points="407.2,406.0 522.9,406.0 524.5,415.8 406.3,415.8" fill="#e8473f"/><polygon points="406.3,415.5 524.5,415.5 525.9,425.3 405.5,425.3" fill="#f7a531"/><polygon points="405.5,425.0 525.9,425.0 527.2,434.8 404.8,434.8" fill="#e8473f"/><polygon points="404.8,434.5 527.2,434.5 528.3,444.3 404.1,444.3" fill="#f7a531"/><polygon points="404.1,444.0 528.3,444.0 529.3,453.8 403.5,453.8" fill="#e8473f"/><polygon points="403.5,453.5 529.3,453.5 530.3,463.3 402.9,463.3" fill="#f7a531"/><polygon points="402.9,463.0 530.3,463.0 531.1,472.8 402.4,472.8" fill="#e8473f"/><polygon points="402.4,472.5 531.1,472.5 531.8,482.3 402.0,482.3" fill="#f7a531"/><polygon points="402.0,482.0 531.8,482.0 532.4,491.8 401.6,491.8" fill="#e8473f"/><polygon points="401.6,491.5 532.4,491.5 533.0,501.3 401.3,501.3" fill="#f7a531"/><polygon points="401.3,501.0 533.0,501.0 533.5,510.8 401.0,510.8" fill="#e8473f"/><polygon points="401.0,510.5 533.5,510.5 533.9,520.3 400.7,520.3" fill="#f7a531"/><polygon points="400.7,520.0 533.9,520.0 534.2,529.8 400.5,529.8" fill="#e8473f"/><polygon points="400.5,529.5 534.2,529.5 534.5,539.3 400.3,539.3" fill="#f7a531"/><polygon points="400.3,539.0 534.5,539.0 534.7,548.8 400.2,548.8" fill="#e8473f"/><polygon points="400.2,548.5 534.7,548.5 534.8,558.3 400.1,558.3" fill="#f7a531"/><polygon points="400.1,558.0 534.8,558.0 534.9,567.8 400.0,567.8" fill="#e8473f"/><polygon points="400.0,567.5 534.9,567.5 535.0,577.3 400.0,577.3" fill="#f7a531"/><polygon points="400.0,577.0 535.0,577.0 535.0,582.3 400.0,582.3" fill="#e8473f"/><path d="M498 335 Q540 350 546 505 L440 602 L420 590 L512 500 Q500 400 498 335Z" fill="#f6b997"/><path d="M385 1078 Q395 1055 445 1048 L495 1046 L495 1080 Q440 1092 390 1090Z" fill="#5a2038"/><path d="M415 232 Q460 210 492 245 Q495 290 478 315 Q455 328 435 312 Q412 285 415 232Z" fill="#f6b997"/><path d="M408 215 Q420 176 468 179 Q516 185 521 230 Q526 270 537 290 Q520 312 489 319 L488 250 Q460 214 421 233 L416 276 Q400 291 384 289 Q405 265 408 215Z" fill="#1a1718"/></g><line x1="138.1" y1="1214.6" x2="151.70000000000002" y2="1201.0" stroke="#3d2f94" stroke-width="1.300"/><line x1="184.7" y1="1214.6" x2="198.3" y2="1201.0" stroke="#3d2f94" stroke-width="1.300"/><line x1="230.29999999999998" y1="1214.6" x2="243.9" y2="1201.0" stroke="#3d2f94" stroke-width="1.300"/><rect x="299.6" y="1004.5" width="97.300" height="56.900" fill="#fff" stroke="#bcd9e4" stroke-width="1" stroke-dasharray="3 2.500"/><circle cx="309.80" cy="1008.46" r="2.16" fill="#f6a62d"/><polygon points="305.49,1011.67 314.11,1011.67 312.06,1023.03 312.06,1030.50 307.54,1030.50 307.54,1023.03" fill="#f6a62d"/><circle cx="309.80" cy="1037.79" r="2.19" fill="#d61f69"/><polygon points="305.95,1041.05 313.65,1041.05 311.51,1047.04 313.97,1052.29 311.99,1052.29 311.99,1060.20 307.61,1060.20 307.61,1052.29 305.63,1052.29 308.09,1047.04" fill="#d61f69"/><rect x="410.2" y="985.7" width="326.59999999999997" height="259.79999999999995" fill="#fff"/><rect x="410.2" y="1138.5" width="326.59999999999997" height="107.0" fill="#f6e4c4"/><rect x="410.2" y="985.7" width="326.59999999999997" height="259.79999999999995" fill="none" stroke="#b9b9b9" stroke-width="1"/><line x1="460.5" y1="1206.2" x2="706.9" y2="1206.2" stroke="#7f7364" stroke-width="1.5" stroke-dasharray="8.300 3.600"/><g transform="translate(407.40 983.50) scale(0.20534) "><path d="M88 500 L118 505 Q100 580 85 642 L72 632 Q80 570 88 500Z" fill="#f6b997"/><path d="M168 308 h34 v36 h-34z" fill="#f6b997"/><path d="M102 575 Q170 590 240 575 Q240 680 220 760 L200 1032 L145 1032 L135 760 Q105 680 102 575Z" fill="#15376d"/><path d="M110 340 Q170 322 232 338 Q245 420 242 500 L240 577 Q170 592 102 577 Q100 450 110 340Z" fill="#f5816d"/><path d="M108 340 Q95 420 92 502 L126 507 Q140 420 152 345Z" fill="#db6057"/><path d="M148 1030 L165 1030 L170 1045 L215 1045 Q245 1055 250 1072 Q250 1088 232 1088 L168 1082 Q150 1070 148 1050Z" fill="#1c2a52"/><path d="M145 228 L225 228 Q230 265 222 295 Q210 322 185 322 Q160 318 152 295 Q142 265 145 228Z" fill="#f6b997"/><path d="M122 245 Q114 210 136 195 Q159 179 186 184 L224 186 Q244 189 240 211 Q236 227 224 233 L146 233 Q140 265 156 297 Q129 281 122 245Z" fill="#3b2c28"/></g><g transform="translate(501.40 983.50) scale(0.20534) "><path d="M440 305 h38 v34 h-38z" fill="#f6b997"/><path d="M447 995 h43 v58 h-43z" fill="#f6b997"/><path d="M400 580 L535 580 Q530 680 510 780 L495 1002 L440 1002 L430 780 Q402 680 400 580Z" fill="#1c4a52"/><polygon points="417.9,330.0 501.2,330.0 505.1,339.8 416.2,339.8" fill="#e8473f"/><polygon points="416.2,339.5 505.1,339.5 508.7,349.3 414.5,349.3" fill="#f7a531"/><polygon points="414.5,349.0 508.7,349.0 511.8,358.8 413.0,358.8" fill="#e8473f"/><polygon points="413.0,358.5 511.8,358.5 514.5,368.3 411.6,368.3" fill="#f7a531"/><polygon points="411.6,368.0 514.5,368.0 517.0,377.8 410.4,377.8" fill="#e8473f"/><polygon points="410.4,377.5 517.0,377.5 519.2,387.3 409.2,387.3" fill="#f7a531"/><polygon points="409.2,387.0 519.2,387.0 521.1,396.8 408.2,396.8" fill="#e8473f"/><polygon points="408.2,396.5 521.1,396.5 522.9,406.3 407.2,406.3" fill="#f7a531"/><polygon points="407.2,406.0 522.9,406.0 524.5,415.8 406.3,415.8" fill="#e8473f"/><polygon points="406.3,415.5 524.5,415.5 525.9,425.3 405.5,425.3" fill="#f7a531"/><polygon points="405.5,425.0 525.9,425.0 527.2,434.8 404.8,434.8" fill="#e8473f"/><polygon points="404.8,434.5 527.2,434.5 528.3,444.3 404.1,444.3" fill="#f7a531"/><polygon points="404.1,444.0 528.3,444.0 529.3,453.8 403.5,453.8" fill="#e8473f"/><polygon points="403.5,453.5 529.3,453.5 530.3,463.3 402.9,463.3" fill="#f7a531"/><polygon points="402.9,463.0 530.3,463.0 531.1,472.8 402.4,472.8" fill="#e8473f"/><polygon points="402.4,472.5 531.1,472.5 531.8,482.3 402.0,482.3" fill="#f7a531"/><polygon points="402.0,482.0 531.8,482.0 532.4,491.8 401.6,491.8" fill="#e8473f"/><polygon points="401.6,491.5 532.4,491.5 533.0,501.3 401.3,501.3" fill="#f7a531"/><polygon points="401.3,501.0 533.0,501.0 533.5,510.8 401.0,510.8" fill="#e8473f"/><polygon points="401.0,510.5 533.5,510.5 533.9,520.3 400.7,520.3" fill="#f7a531"/><polygon points="400.7,520.0 533.9,520.0 534.2,529.8 400.5,529.8" fill="#e8473f"/><polygon points="400.5,529.5 534.2,529.5 534.5,539.3 400.3,539.3" fill="#f7a531"/><polygon points="400.3,539.0 534.5,539.0 534.7,548.8 400.2,548.8" fill="#e8473f"/><polygon points="400.2,548.5 534.7,548.5 534.8,558.3 400.1,558.3" fill="#f7a531"/><polygon points="400.1,558.0 534.8,558.0 534.9,567.8 400.0,567.8" fill="#e8473f"/><polygon points="400.0,567.5 534.9,567.5 535.0,577.3 400.0,577.3" fill="#f7a531"/><polygon points="400.0,577.0 535.0,577.0 535.0,582.3 400.0,582.3" fill="#e8473f"/><path d="M498 335 Q540 350 546 505 L440 602 L420 590 L512 500 Q500 400 498 335Z" fill="#f6b997"/><path d="M385 1078 Q395 1055 445 1048 L495 1046 L495 1080 Q440 1092 390 1090Z" fill="#5a2038"/><path d="M415 232 Q460 210 492 245 Q495 290 478 315 Q455 328 435 312 Q412 285 415 232Z" fill="#f6b997"/><path d="M408 215 Q420 176 468 179 Q516 185 521 230 Q526 270 537 290 Q520 312 489 319 L488 250 Q460 214 421 233 L416 276 Q400 291 384 289 Q405 265 408 215Z" fill="#1a1718"/></g><line x1="477.09999999999997" y1="1213.0" x2="490.7" y2="1199.4" stroke="#3d2f94" stroke-width="1.300"/><line x1="523.4000000000001" y1="1213.0" x2="537.0" y2="1199.4" stroke="#3d2f94" stroke-width="1.300"/><line x1="569.7" y1="1213.0" x2="583.3" y2="1199.4" stroke="#3d2f94" stroke-width="1.300"/><rect x="636.6" y="1003.5" width="97.300" height="56.900" fill="#fff" stroke="#bcd9e4" stroke-width="1" stroke-dasharray="3 2.500"/><circle cx="646.80" cy="1007.46" r="2.16" fill="#f6a62d"/><polygon points="642.49,1010.67 651.11,1010.67 649.06,1022.03 649.06,1029.50 644.54,1029.50 644.54,1022.03" fill="#f6a62d"/><circle cx="646.80" cy="1036.79" r="2.19" fill="#d61f69"/><polygon points="642.95,1040.05 650.65,1040.05 648.51,1046.04 650.97,1051.29 648.99,1051.29 648.99,1059.20 644.61,1059.20 644.61,1051.29 642.63,1051.29 645.09,1046.04" fill="#d61f69"/><rect x="808.8" y="986.7" width="325.60000000000014" height="260.0999999999999" fill="#fff"/><rect x="808.8" y="1138.9" width="325.60000000000014" height="107.89999999999986" fill="#f6e4c4"/><rect x="808.8" y="986.7" width="325.60000000000014" height="260.0999999999999" fill="none" stroke="#b9b9b9" stroke-width="1"/><line x1="847.7" y1="1207" x2="1105.2" y2="1207" stroke="#7f7364" stroke-width="1.5" stroke-dasharray="8.300 3.600"/><rect x="1084.3" y="1021.5" width="39.700000000000045" height="171.5" fill="#04693a"/><rect x="1076" y="1193.8" width="55.700000000000045" height="5" fill="#a9712b"/><circle cx="1081.9" cy="1201.4" r="4.3" fill="#1d1d1b"/><circle cx="1081.9" cy="1201.4" r="1.81" fill="#9a9a9a"/><circle cx="1125.6" cy="1201.4" r="4.3" fill="#1d1d1b"/><circle cx="1125.6" cy="1201.4" r="1.81" fill="#9a9a9a"/><g transform="translate(805.00 985.00) scale(0.20846) "><path d="M1412 1015 Q1425 1100 1465 1140 Q1520 1150 1550 1160 Q1575 1200 1578 1250" fill="none" stroke="#222" stroke-width="5"/></g><g transform="translate(805.00 985.00) scale(0.20846) "><path d="M88 235 Q92 178 140 176 Q186 182 188 235 L188 322 L88 322Z" fill="#d8a96e"/><path d="M42 492 L66 498 Q55 570 45 632 L30 624 Q35 560 42 492Z" fill="#eaa783"/><path d="M118 288 h40 v40 h-40z" fill="#eaa783"/><path d="M58 560 Q125 575 190 560 Q188 660 170 740 L155 1012 L105 1012 L92 740 Q60 660 58 560Z" fill="#a24f3c"/><path d="M68 328 Q125 310 180 326 Q198 400 196 490 L190 562 Q125 577 58 562 Q50 450 68 328Z" fill="#9b9fda"/><path d="M66 332 Q48 420 45 493 L79 499 Q95 420 107 340Z" fill="#9b9fda" stroke="#747ab8" stroke-width="3"/><path d="M105 1012 L125 1012 L135 1022 L175 1022 Q200 1032 205 1048 Q205 1066 188 1066 L125 1062 Q105 1048 102 1030Z" fill="#1c2a52"/><path d="M100 215 Q140 188 178 215 Q183 260 170 292 Q148 314 122 297 Q98 260 100 215Z" fill="#eaa783"/></g><line x1="913.1" y1="1213.8" x2="926.6999999999999" y2="1200.2" stroke="#3d2f94" stroke-width="1.300"/><line x1="959.3000000000001" y1="1213.8" x2="972.9" y2="1200.2" stroke="#3d2f94" stroke-width="1.300"/><line x1="1005.2" y1="1213.8" x2="1018.8" y2="1200.2" stroke="#3d2f94" stroke-width="1.300"/><path d="M1074.5 1083.0 H938.6 V1078.35 L923.6 1086.6 L938.6 1094.85 V1090.1999999999998 H1074.5Z" fill="#fff" stroke="#8d2a90" stroke-width="2" stroke-linejoin="miter"/><path d="M1074.5 1120.6 H1039.6 V1116.35 L1024 1124.6 L1039.6 1132.85 V1128.6 H1074.5Z" fill="#fff" stroke="#1fa9a4" stroke-width="2" stroke-linejoin="miter"/></svg>
<span class="t" style="left:128.8px;top:599.6px;font-size:26.3px;color:#111;font-weight:700;transform:scaleX(1.0269);">Active Approach</span>
<span class="t" style="left:459.3px;top:599.6px;font-size:26.3px;color:#111;font-weight:700;transform:scaleX(1.0204);">Passive Approach</span>
<span class="t" style="left:864.7px;top:600.1px;font-size:26.3px;color:#111;font-weight:700;transform:scaleX(1.0249);">Active Approach</span>
<span class="t" style="left:1190.9px;top:600.1px;font-size:26.3px;color:#111;font-weight:700;transform:scaleX(1.0182);">Passive Approach</span>
<span class="t" style="left:205.6px;top:952.5px;font-size:28px;color:#111;font-weight:700;transform:scaleX(1.0150);">Near</span>
<span class="t" style="left:552.6px;top:952.0px;font-size:28px;color:#111;font-weight:700;transform:scaleX(0.9822);">Far</span>
<span class="t" style="left:921.8px;top:953.5px;font-size:26.3px;color:#111;font-weight:700;transform:scaleX(1.0598);">Near/Far</span>
<span class="t" style="left:113.5px;top:647.0px;font-size:15.3px;color:#111;font-weight:700;transform:scaleX(1.0405);">Subject</span>
<span class="t" style="left:351.8px;top:647.3px;font-size:15.3px;color:#111;font-weight:700;transform:scaleX(1.0587);">Other</span>
<span class="t" style="left:428.5px;top:646.8px;font-size:15.3px;color:#111;font-weight:700;transform:scaleX(1.0496);">Subject</span>
<span class="t" style="left:646.0px;top:647.9px;font-size:14px;color:#111;font-weight:700;transform:scaleX(0.9909);">Other</span>
<span class="t" style="left:848.6px;top:646.8px;font-size:15.3px;color:#111;font-weight:700;transform:scaleX(1.0459);">Subject</span>
<span class="t" style="left:1070.8px;top:647.0px;font-size:15.3px;color:#111;font-weight:700;transform:scaleX(1.0523);">Object</span>
<span class="t" style="left:1165.2px;top:646.5px;font-size:15.3px;color:#111;font-weight:700;transform:scaleX(1.0351);">Subject</span>
<span class="t" style="left:1359.2px;top:648.0px;font-size:15.3px;color:#111;font-weight:700;transform:scaleX(1.0502);">Object</span>
<span class="t" style="left:75.1px;top:1002.7px;font-size:15.5px;color:#111;font-weight:700;transform:scaleX(1.0307);">Subject</span>
<span class="t" style="left:149.7px;top:1002.7px;font-size:15.5px;color:#111;font-weight:700;transform:scaleX(1.0281);">Other</span>
<span class="t" style="left:412.3px;top:1001.7px;font-size:15.5px;color:#111;font-weight:700;transform:scaleX(1.0307);">Subject</span>
<span class="t" style="left:575.8px;top:1001.7px;font-size:15.5px;color:#111;font-weight:700;transform:scaleX(1.0329);">Other</span>
<span class="t" style="left:810.7px;top:1002.5px;font-size:15.5px;color:#111;font-weight:700;transform:scaleX(1.0217);">Subject</span>
<span class="t" style="left:1079.2px;top:1002.5px;font-size:15.5px;color:#111;font-weight:700;transform:scaleX(1.0387);">Object</span>
<span class="t" style="left:229.0px;top:854.3px;font-size:16.5px;color:#1a1a1a;font-weight:700;transform:scaleX(1.0902);">4 m</span>
<span class="t" style="left:563.0px;top:856.0px;font-size:16.5px;color:#1a1a1a;font-weight:700;transform:scaleX(1.0902);">4 m</span>
<span class="t" style="left:957.0px;top:853.3px;font-size:16.5px;color:#3a3226;font-weight:700;transform:scaleX(1.0902);">4 m</span>
<span class="t" style="left:1294.0px;top:853.8px;font-size:16.5px;color:#1a1a1a;font-weight:700;transform:scaleX(1.0902);">4 m</span>
<span class="t" style="left:327.0px;top:990.1px;font-size:13.5px;color:#8fc3da;font-weight:700;transform:scaleX(1.1804);">Other</span>
<span class="t" style="left:317.0px;top:1014.6px;font-size:9.2px;color:#2a2a2a;font-weight:700;transform:scaleX(0.9711);">Same Gender</span>
<span class="t" style="left:317.3px;top:1042.5px;font-size:9.2px;color:#2a2a2a;font-weight:700;transform:scaleX(0.9728);">Opposite Gender</span>
<span class="t" style="left:664.0px;top:989.1px;font-size:13.5px;color:#8fc3da;font-weight:700;transform:scaleX(1.1804);">Other</span>
<span class="t" style="left:654.0px;top:1013.6px;font-size:9.2px;color:#2a2a2a;font-weight:700;transform:scaleX(0.9711);">Same Gender</span>
<span class="t" style="left:654.3px;top:1041.5px;font-size:9.2px;color:#2a2a2a;font-weight:700;transform:scaleX(0.9728);">Opposite Gender</span>
<span class="t" style="left:123.7px;top:1218.7px;font-size:10.6px;color:#2a2520;font-weight:700;transform:scaleX(1.1145);">-2 SD</span>
<span class="t" style="left:175.6px;top:1216.2px;font-size:10.6px;color:#2a2520;font-weight:700;transform:scaleX(1.1092);">IPD</span>
<span class="t" style="left:170.2px;top:1224.0px;font-size:10.6px;color:#2a2520;font-weight:700;transform:scaleX(1.1014);">mean</span>
<span class="t" style="left:213.7px;top:1218.7px;font-size:10.6px;color:#2a2520;font-weight:700;transform:scaleX(1.0956);">+2 SD</span>
<span class="t" style="left:462.7px;top:1217.3px;font-size:10.6px;color:#2a2520;font-weight:700;transform:scaleX(1.1145);">-2 SD</span>
<span class="t" style="left:514.8px;top:1214.8px;font-size:10.6px;color:#2a2520;font-weight:700;transform:scaleX(1.1092);">IPD</span>
<span class="t" style="left:509.4px;top:1222.6px;font-size:10.6px;color:#2a2520;font-weight:700;transform:scaleX(1.1014);">mean</span>
<span class="t" style="left:552.7px;top:1217.3px;font-size:10.6px;color:#2a2520;font-weight:700;transform:scaleX(1.0956);">+2 SD</span>
<span class="t" style="left:899.2px;top:1217.8px;font-size:10.6px;color:#2a2520;font-weight:700;transform:scaleX(1.1145);">-2 SD</span>
<span class="t" style="left:950.1px;top:1215.3px;font-size:10.6px;color:#2a2520;font-weight:700;transform:scaleX(1.1092);">IPD</span>
<span class="t" style="left:944.6px;top:1223.1px;font-size:10.6px;color:#2a2520;font-weight:700;transform:scaleX(1.1014);">mean</span>
<span class="t" style="left:988.4px;top:1217.8px;font-size:10.6px;color:#2a2520;font-weight:700;transform:scaleX(1.0956);">+2 SD</span>
<span class="t" style="left:988.0px;top:1064.4px;font-size:14px;color:#1a1a1a;font-weight:700;transform:scaleX(1.1563);">Near</span>
<span class="t" style="left:1044.7px;top:1101.3px;font-size:14px;color:#1a1a1a;font-weight:700;transform:scaleX(1.1061);">Far</span>
<div class="a" style="left:1507px;top:591.500px;width:247px;height:107.500px;background:#c9e0ed;border:2.600px solid #8fc3da;border-radius:9px;box-sizing:border-box"></div>
<svg class="a" style="left:0;top:0" width="1792" height="1300"><rect x="1519.1" y="636.400" width="113.700" height="57.300" fill="none" stroke="#b2cfdc" stroke-width="0.900" stroke-dasharray="3 2.500"/><rect x="1636.6" y="636.400" width="113.700" height="57.300" fill="none" stroke="#b2cfdc" stroke-width="0.900" stroke-dasharray="3 2.500"/><circle cx="1527.20" cy="641.25" r="2.05" fill="#2b3fae"/><polygon points="1523.10,644.30 1531.30,644.30 1529.35,655.10 1529.35,662.20 1525.05,662.20 1525.05,655.10" fill="#2b3fae"/><circle cx="1527.20" cy="670.37" r="2.07" fill="#2b3fae"/><polygon points="1523.57,673.44 1530.83,673.44 1528.81,679.09 1531.13,684.04 1529.27,684.04 1529.27,691.50 1525.13,691.50 1525.13,684.04 1523.27,684.04 1525.59,679.09" fill="#2b3fae"/><circle cx="1644.70" cy="641.25" r="2.05" fill="#2b3fae"/><polygon points="1640.60,644.30 1648.80,644.30 1646.85,655.10 1646.85,662.20 1642.55,662.20 1642.55,655.10" fill="#2b3fae"/><circle cx="1644.70" cy="670.37" r="2.07" fill="#2b3fae"/><polygon points="1641.07,673.44 1648.33,673.44 1646.31,679.09 1648.63,684.04 1646.77,684.04 1646.77,691.50 1642.63,691.50 1642.63,684.04 1640.77,684.04 1643.09,679.09" fill="#2b3fae"/></svg>
<span class="t" style="left:1544.1px;top:598.7px;font-size:19.6px;color:#231f20;font-weight:700;transform:scaleX(1.0673);">Human</span>
<span class="t" style="left:1662.0px;top:598.7px;font-size:19.6px;color:#231f20;font-weight:700;transform:scaleX(1.1083);">Object</span>
<span class="t" style="left:1554.5px;top:622.5px;font-size:14.2px;color:#231f20;transform:scaleX(1.1081);-webkit-text-stroke:0.300px #231f20;">N = 32</span>
<span class="t" style="left:1671.9px;top:622.5px;font-size:14.2px;color:#231f20;transform:scaleX(1.1081);-webkit-text-stroke:0.300px #231f20;">N = 24</span>
<span class="t" style="left:1535.7px;top:646.4px;font-size:12.2px;color:#231f20;font-weight:700;transform:scaleX(1.1114);">Male N = 7</span>
<span class="t" style="left:1535.7px;top:673.1px;font-size:12.2px;color:#231f20;font-weight:700;transform:scaleX(1.1197);">Female N = 25</span>
<span class="t" style="left:1653.5px;top:646.4px;font-size:12.2px;color:#231f20;font-weight:700;transform:scaleX(1.1114);">Male N = 9</span>
<span class="t" style="left:1653.5px;top:673.1px;font-size:12.2px;color:#231f20;font-weight:700;transform:scaleX(1.1221);">Female N = 15</span>
<span class="t" style="left:1506.0px;top:740.1px;font-size:19.6px;color:#2b2729;transform:scaleX(1.0698);-webkit-text-stroke:0.300px #2b2729;"><b>Task 1.</b> Subject performed</span>
<span class="t" style="left:1506.0px;top:762.6px;font-size:19.6px;color:#2b2729;transform:scaleX(1.0698);word-spacing:10.17px;-webkit-text-stroke:0.300px #2b2729;">the Stop Distance Task</span>
<span class="t" style="left:1506.0px;top:785.2px;font-size:19.6px;color:#2b2729;transform:scaleX(1.0587);-webkit-text-stroke:0.300px #2b2729;">with <b>a confederate</b></span>
<span class="t" style="left:1506.0px;top:830.3px;font-size:19.6px;color:#2b2729;transform:scaleX(1.0745);word-spacing:2.58px;-webkit-text-stroke:0.300px #2b2729;"><b>Task 2. The confederate</b></span>
<span class="t" style="left:1506.0px;top:852.8px;font-size:19.6px;color:#2b2729;transform:scaleX(1.0629);-webkit-text-stroke:0.300px #2b2729;">approached the participant</span>
<span class="t" style="left:1506.0px;top:875.4px;font-size:19.6px;color:#2b2729;transform:scaleX(1.0745);word-spacing:1.56px;-webkit-text-stroke:0.300px #2b2729;">either beyond their IPD or</span>
<span class="t" style="left:1506.0px;top:897.9px;font-size:19.6px;color:#2b2729;transform:scaleX(1.0745);-webkit-text-stroke:0.300px #2b2729;">stopped before it</span>
<span class="t" style="left:1157.2px;top:948.1px;font-size:19.6px;color:#2b2729;transform:scaleX(1.0731);-webkit-text-stroke:0.300px #2b2729;"><b>Task 3.</b> The participant per-</span>
<span class="t" style="left:1157.2px;top:971.2px;font-size:19.6px;color:#2b2729;transform:scaleX(1.0731);word-spacing:6.30px;-webkit-text-stroke:0.300px #2b2729;">formed the Stop Distance</span>
<span class="t" style="left:1157.2px;top:994.3px;font-size:19.6px;color:#2b2729;transform:scaleX(1.0510);-webkit-text-stroke:0.300px #2b2729;">Task with <b>a motored object</b></span>
<span class="t" style="left:1157.2px;top:1038.9px;font-size:19.6px;color:#2b2729;transform:scaleX(1.0731);-webkit-text-stroke:0.300px #2b2729;"><b>Task 4.</b> The participant per-</span>
<span class="t" style="left:1157.2px;top:1061.6px;font-size:19.6px;color:#2b2729;transform:scaleX(1.0950);-webkit-text-stroke:0.300px #2b2729;">formed task 2 with <b>a moto-</b></span>
<span class="t" style="left:1157.2px;top:1083.9px;font-size:19.6px;color:#2b2729;transform:scaleX(1.0495);-webkit-text-stroke:0.300px #2b2729;"><b>red object</b></span>
<svg class="a" style="left:0;top:0" width="1792" height="1300"><path d="M1439.3 952.6 H1742.6 Q1754.6 952.6 1754.6 964.6 V1249.6 Q1754.6 1261.6 1742.6 1261.6 H1170 Q1158 1261.6 1158 1249.6 V1131.9 Q1158 1119.9 1170 1119.9 H1423.3 Q1427.3 1119.9 1427.3 1115.9 V964.6 Q1427.3 952.6 1439.3 952.6Z" fill="#b8d8e8" stroke="#8fc3da" stroke-width="2.300"/><g transform="translate(1150.00 940.00) scale(0.39825) "><path d="M975 238 L1040 232 Q1100 215 1135 170 Q1150 158 1156 175 Q1150 215 1120 242 L1230 214 Q1262 210 1258 228 L1172 256 L1265 251 Q1285 258 1270 273 L1172 282 L1255 285 Q1267 298 1250 303 L1160 303 L1215 320 Q1224 336 1205 336 L1100 313 Q1040 305 975 308Z" fill="#fbdcb8"/><path d="M1040 240 Q1060 270 1045 300" fill="none" stroke="#eec9a2" stroke-width="3"/><path d="M1125 222 Q1170 198 1232 212 M1125 222 Q1175 262 1250 263" fill="none" stroke="#111" stroke-width="2.500"/><rect x="1228" y="202" width="24" height="24" fill="#111" transform="rotate(-12 1240 214)"/><rect x="1246" y="250" width="24" height="26" fill="#111"/></g><g transform="translate(1150.00 940.00) scale(0.39825) "><polygon points="790,628 945,670 945,712 790,662" fill="#56577f" stroke="#33334f" stroke-width="2"/><polygon points="945,670 990,625 1052,492 1052,520 992,655 945,712" fill="#3f4060" stroke="#33334f" stroke-width="2"/><polygon points="925,458 1052,492 990,625 945,670 790,628" fill="#9b9dcb" stroke="#33334f" stroke-width="2"/><polygon points="850,598 940,622 920,660 825,632" fill="#6e6e75"/><circle cx="875" cy="553" r="19" fill="#8a8bb5" stroke="#444" stroke-width="2"/><circle cx="875" cy="553" r="10" fill="none" stroke="#555" stroke-width="2"/><polygon points="905,470 950,482 932,520 888,508" fill="#7c7da8" stroke="#333" stroke-width="2"/><polygon points="1005,500 1035,508 975,605 945,596" fill="#7c7da8" stroke="#333" stroke-width="2"/><ellipse cx="902" cy="650" rx="14" ry="8" fill="#e8952e" stroke="#8a5a1a" stroke-width="1.500"/><path d="M1045 520 Q1075 525 1075 560" fill="none" stroke="#222" stroke-width="2.500"/><ellipse cx="1088" cy="590" rx="26" ry="28" fill="none" stroke="#222" stroke-width="2.500"/><ellipse cx="1082" cy="585" rx="20" ry="20" fill="none" stroke="#222" stroke-width="2"/><path d="M1110 575 Q1145 600 1125 650 Q1095 680 1060 655" fill="none" stroke="#222" stroke-width="2.500"/><circle cx="1050" cy="642" r="11" fill="#fff" stroke="#222" stroke-width="2.500"/><circle cx="1050" cy="642" r="4" fill="#222"/></g><g transform="translate(1150.00 940.00) scale(0.39825) "><path d="M1193 470 Q1193 447 1215 447 L1250 447 Q1262 447 1265 462 L1275 515 Q1280 528 1295 528 L1370 528 Q1388 528 1392 515 L1402 462 Q1405 447 1418 447 L1452 447 Q1473 447 1473 470 L1473 650 Q1473 725 1400 725 L1268 725 Q1193 725 1193 650Z" fill="#424244"/><path d="M1196 575 H1250 M1268 575 H1297" stroke="#1f1f20" stroke-width="4" fill="none"/><path d="M1446 588 V660 Q1446 695 1410 695 H1265" stroke="#1f1f20" stroke-width="4.500" fill="none"/></g><g transform="translate(1150.00 940.00) scale(0.39825) "><polygon points="598,686 614,706 440,792 426,770" fill="#f3e13c" stroke="#7a7a30" stroke-width="1.500"/><path d="M470 752 l6 10 M500 737 l6 10 M530 722 l6 10 M560 707 l6 10" stroke="#444" stroke-width="2"/><polygon points="420,768 445,762 450,785 428,797" fill="#a9a9a9" stroke="#555" stroke-width="1.500"/><path d="M575 610 Q585 548 650 545 Q708 548 710 610 L710 652 L612 712 L575 690Z" fill="#4b4b4d"/><path d="M575 612 Q583 562 622 552 Q608 600 612 712 L575 690Z" fill="#343436"/><path d="M580 622 Q588 596 610 590 L612 640 L590 672 L580 660Z" fill="#f28c28"/></g></svg>
<span class="t" style="left:1451.9px;top:963.7px;font-size:28.5px;color:#111;font-weight:700;transform:scaleX(0.9476);">Physiological measure</span>
<span class="t" style="left:1514.4px;top:1077.6px;font-size:15.2px;color:#1a1a1a;font-weight:700;transform:scaleX(1.0510);">Electrodermal Activity</span>
<span class="t" style="left:1576.9px;top:1094.4px;font-size:15.2px;color:#1a1a1a;font-weight:700;transform:scaleX(1.0209);">[EDA]</span>
<span class="t" style="left:1166.7px;top:1128.6px;font-size:26.5px;color:#111;font-weight:700;transform:scaleX(1.0247);">Behavioral measure</span>
<span class="t" style="left:1169.1px;top:1162.1px;font-size:19px;color:#2b2729;transform:scaleX(0.9770);-webkit-text-stroke:0.3px #2b2729;">IPD:the distance</span>
<span class="t" style="left:1169.1px;top:1184.8px;font-size:19px;color:#2b2729;transform:scaleX(1.0162);-webkit-text-stroke:0.3px #2b2729;">between the</span>
<span class="t" style="left:1169.1px;top:1207.5px;font-size:19px;color:#2b2729;transform:scaleX(0.9874);-webkit-text-stroke:0.3px #2b2729;">Subject’s and</span>
<span class="t" style="left:1169.1px;top:1229.8px;font-size:19px;color:#2b2729;transform:scaleX(1.0038);-webkit-text-stroke:0.3px #2b2729;">the Other’s toes</span>
<span class="t" style="left:1460.6px;top:1237.7px;font-size:15.2px;color:#1a1a1a;font-weight:700;transform:scaleX(1.0232);">Wireless Polygraph</span>
<span class="t" style="left:1644.6px;top:1237.7px;font-size:15.2px;color:#1a1a1a;font-weight:700;transform:scaleX(1.0270);">Backpack</span>
<div class="a" style="left:24px;top:1334.300px;width:1745px;height:919.700px;border:2.700px solid #8fc3da;border-radius:32px;box-sizing:border-box"></div>
<svg class="a" style="left:0;top:0" width="1792" height="2560"><line x1="895.900" y1="1370" x2="895.900" y2="1793" stroke="#6f9dbd" stroke-width="1.600" stroke-dasharray="8 5"/><line x1="27" y1="1794.900" x2="470" y2="1794.900" stroke="#6f9dbd" stroke-width="1.600" stroke-dasharray="9 5"/><line x1="1766" y1="1794.900" x2="1322" y2="1794.900" stroke="#6f9dbd" stroke-width="1.600" stroke-dasharray="9 5"/></svg>
<div class="a" style="left:443.300px;top:1793.300px;width:905.700px;height:461.200px;border:4.600px solid #8fc3da;border-radius:30px;box-sizing:border-box;background:#d0e3ef"></div>
<svg class="a" style="left:0;top:0" width="1792" height="2560"><line x1="1037.100" y1="1849" x2="1037.100" y2="2245" stroke="#6f9dbd" stroke-width="1.600" stroke-dasharray="8 5"/></svg>
<div class="a" style="left:661.500px;top:1302.300px;width:460.500px;height:66.400px;border:4.600px solid #8fc3da;border-radius:33.500px;box-sizing:border-box;background:#fff"></div>
<span class="t" style="left:837.6px;top:1322.5px;font-size:26.3px;color:#231f20;font-weight:700;transform:scaleX(0.9413);">RESULTS</span>
<div class="a" style="left:369.4px;top:1335.9px;width:185px;height:31px;background:#bcdcea;border:1.600px solid #8fc3da;border-radius:15.5px;box-sizing:border-box"></div>
<span class="t" style="left:416.0px;top:1339.1px;font-size:24.5px;color:#231f20;font-weight:700;transform:scaleX(1.0297);">Human</span>
<div class="a" style="left:1236.7px;top:1336.5px;width:185px;height:31px;background:#bcdcea;border:1.600px solid #8fc3da;border-radius:15.5px;box-sizing:border-box"></div>
<span class="t" style="left:1285.3px;top:1339.8px;font-size:24.5px;color:#231f20;font-weight:700;transform:scaleX(1.0690);">Object</span>
<div class="a" style="left:19.5px;top:1481.2px;width:32px;height:131px;background:#bcdcea;border:1.600px solid #8fc3da;border-radius:16.0px;box-sizing:border-box"></div>
<div class="a" style="left:-24.5px;top:1540.7px;width:120px;height:24px;line-height:24px;text-align:center;font-weight:700;font-size:18.500px;color:#231f20;transform:rotate(-90deg)">Part A</div>
<div class="a" style="left:20.6px;top:1946.9px;width:32px;height:131px;background:#bcdcea;border:1.600px solid #8fc3da;border-radius:16.0px;box-sizing:border-box"></div>
<div class="a" style="left:-23.4px;top:2006.4px;width:120px;height:24px;line-height:24px;text-align:center;font-weight:700;font-size:18.500px;color:#231f20;transform:rotate(-90deg)">Part B</div>
<div class="a" style="left:707.800px;top:1796.400px;width:376.800px;height:45.700px;background:#92c5de;border-radius:23px"></div>
<span class="t" style="left:769.9px;top:1805.5px;font-size:26.3px;color:#231f20;font-weight:700;transform:scaleX(0.9669);">HUMAN VS. OBJECT</span>
<div class="a" style="left:652.5px;top:1849.3px;width:131px;height:31.7px;background:#bcdcea;border:1.600px solid #8fc3da;border-radius:15.85px;box-sizing:border-box"></div>
<span class="t" style="left:689.3px;top:1856.3px;font-size:18.5px;color:#231f20;font-weight:700;transform:scaleX(0.9814);">Part A</span>
<div class="a" style="left:1125.8px;top:1849.3px;width:130.5px;height:31.7px;background:#bcdcea;border:1.600px solid #8fc3da;border-radius:15.85px;box-sizing:border-box"></div>
<span class="t" style="left:1158.4px;top:1856.3px;font-size:18.5px;color:#231f20;font-weight:700;transform:scaleX(0.9635);">Part B</span>
<svg class="a" style="left:0;top:0" width="1792" height="2560" viewBox="0 0 1792 2560"><line x1="119.60" y1="1405.10" x2="119.60" y2="1683.60" stroke="#9a9a9a" stroke-width="1"/><line x1="119.60" y1="1683.60" x2="375.80" y2="1683.60" stroke="#9a9a9a" stroke-width="1"/><line x1="119.60" y1="1683.60" x2="123.00" y2="1683.60" stroke="#9a9a9a" stroke-width="1"/><text transform="translate(115.90 1688.32) scale(1.13 1)" text-anchor="end" font-size="13.3" fill="#4a4a4a">0</text><line x1="119.60" y1="1643.81" x2="123.00" y2="1643.81" stroke="#9a9a9a" stroke-width="1"/><text transform="translate(115.90 1648.54) scale(1.13 1)" text-anchor="end" font-size="13.3" fill="#4a4a4a">0.2</text><line x1="119.60" y1="1604.03" x2="123.00" y2="1604.03" stroke="#9a9a9a" stroke-width="1"/><text transform="translate(115.90 1608.75) scale(1.13 1)" text-anchor="end" font-size="13.3" fill="#4a4a4a">0.4</text><line x1="119.60" y1="1564.24" x2="123.00" y2="1564.24" stroke="#9a9a9a" stroke-width="1"/><text transform="translate(115.90 1568.96) scale(1.13 1)" text-anchor="end" font-size="13.3" fill="#4a4a4a">0.6</text><line x1="119.60" y1="1524.46" x2="123.00" y2="1524.46" stroke="#9a9a9a" stroke-width="1"/><text transform="translate(115.90 1529.18) scale(1.13 1)" text-anchor="end" font-size="13.3" fill="#4a4a4a">0.8</text><line x1="119.60" y1="1484.67" x2="123.00" y2="1484.67" stroke="#9a9a9a" stroke-width="1"/><text transform="translate(115.90 1489.39) scale(1.13 1)" text-anchor="end" font-size="13.3" fill="#4a4a4a">1</text><line x1="119.60" y1="1444.89" x2="123.00" y2="1444.89" stroke="#9a9a9a" stroke-width="1"/><text transform="translate(115.90 1449.61) scale(1.13 1)" text-anchor="end" font-size="13.3" fill="#4a4a4a">1.2</text><line x1="119.60" y1="1405.10" x2="123.00" y2="1405.10" stroke="#9a9a9a" stroke-width="1"/><text transform="translate(115.90 1409.82) scale(1.13 1)" text-anchor="end" font-size="13.3" fill="#4a4a4a">1.4</text><rect x="166.00" y="1444.30" width="83.00" height="239.30" fill="#f98270" stroke="#e2564c" stroke-width="1.2"/><rect x="282.00" y="1539.10" width="82.90" height="144.50" fill="#8fc852" stroke="#6aa43a" stroke-width="1.2"/><line x1="207.80" y1="1408.20" x2="207.80" y2="1480.40" stroke="#e2564c" stroke-width="1.3"/><line x1="205.00" y1="1408.20" x2="210.60" y2="1408.20" stroke="#e2564c" stroke-width="1.3"/><line x1="205.00" y1="1480.40" x2="210.60" y2="1480.40" stroke="#e2564c" stroke-width="1.3"/><line x1="323.50" y1="1519.90" x2="323.50" y2="1558.20" stroke="#6aa43a" stroke-width="1.3"/><line x1="320.70" y1="1519.90" x2="326.30" y2="1519.90" stroke="#6aa43a" stroke-width="1.3"/><line x1="320.70" y1="1558.20" x2="326.30" y2="1558.20" stroke="#6aa43a" stroke-width="1.3"/><line x1="207.80" y1="1392.80" x2="323.50" y2="1392.80" stroke="#555" stroke-width="1.1"/><text x="265.30" y="1397.20" text-anchor="middle" font-size="20" fill="#333">***</text><line x1="489.30" y1="1420.30" x2="489.30" y2="1683.20" stroke="#9a9a9a" stroke-width="1"/><line x1="489.30" y1="1683.20" x2="875.50" y2="1683.20" stroke="#9a9a9a" stroke-width="1"/><line x1="489.30" y1="1683.20" x2="489.30" y2="1683.20" stroke="#9a9a9a" stroke-width="1"/><text transform="translate(484.20 1687.92) scale(1.13 1)" text-anchor="end" font-size="13.3" fill="#4a4a4a">−20</text><line x1="489.30" y1="1650.34" x2="489.30" y2="1650.34" stroke="#9a9a9a" stroke-width="1"/><text transform="translate(484.20 1655.06) scale(1.13 1)" text-anchor="end" font-size="13.3" fill="#4a4a4a">0</text><line x1="489.30" y1="1617.47" x2="489.30" y2="1617.47" stroke="#9a9a9a" stroke-width="1"/><text transform="translate(484.20 1622.20) scale(1.13 1)" text-anchor="end" font-size="13.3" fill="#4a4a4a">20</text><line x1="489.30" y1="1584.61" x2="489.30" y2="1584.61" stroke="#9a9a9a" stroke-width="1"/><text transform="translate(484.20 1589.33) scale(1.13 1)" text-anchor="end" font-size="13.3" fill="#4a4a4a">40</text><line x1="489.30" y1="1551.75" x2="489.30" y2="1551.75" stroke="#9a9a9a" stroke-width="1"/><text transform="translate(484.20 1556.47) scale(1.13 1)" text-anchor="end" font-size="13.3" fill="#4a4a4a">60</text><line x1="489.30" y1="1518.89" x2="489.30" y2="1518.89" stroke="#9a9a9a" stroke-width="1"/><text transform="translate(484.20 1523.61) scale(1.13 1)" text-anchor="end" font-size="13.3" fill="#4a4a4a">80</text><line x1="489.30" y1="1486.03" x2="489.30" y2="1486.03" stroke="#9a9a9a" stroke-width="1"/><text transform="translate(484.20 1490.75) scale(1.13 1)" text-anchor="end" font-size="13.3" fill="#4a4a4a">100</text><line x1="489.30" y1="1453.16" x2="489.30" y2="1453.16" stroke="#9a9a9a" stroke-width="1"/><text transform="translate(484.20 1457.88) scale(1.13 1)" text-anchor="end" font-size="13.3" fill="#4a4a4a">120</text><line x1="489.30" y1="1420.30" x2="489.30" y2="1420.30" stroke="#9a9a9a" stroke-width="1"/><text transform="translate(484.20 1425.02) scale(1.13 1)" text-anchor="end" font-size="13.3" fill="#4a4a4a">140</text><line x1="550.20" y1="1412.00" x2="723.80" y2="1412.00" stroke="#555" stroke-width="1.1"/><text x="636.80" y="1416.70" text-anchor="middle" font-size="19.5" fill="#333">*</text><line x1="549.90" y1="1490.50" x2="549.90" y2="1542.80" stroke="#ee8f84" stroke-width="1"/><line x1="549.90" y1="1578.60" x2="549.90" y2="1629.40" stroke="#ee8f84" stroke-width="1"/><line x1="538.60" y1="1490.50" x2="561.30" y2="1490.50" stroke="#ee8f84" stroke-width="1"/><line x1="538.60" y1="1629.40" x2="561.30" y2="1629.40" stroke="#ee8f84" stroke-width="1"/><rect x="527.50" y="1542.80" width="44.80" height="35.80" fill="#f98270" stroke="#e2564c" stroke-width="0.9"/><line x1="527.50" y1="1564.60" x2="572.30" y2="1564.60" stroke="#dd5f55" stroke-width="2"/><circle cx="590.25" cy="1467.51" r="3.3" fill="#f9978a" stroke="#e57a6e" stroke-width="0.700" fill-opacity="0.85"/><circle cx="595.33" cy="1490.51" r="3.3" fill="#f9978a" stroke="#e57a6e" stroke-width="0.700" fill-opacity="0.85"/><circle cx="610.56" cy="1498.28" r="3.3" fill="#f9978a" stroke="#e57a6e" stroke-width="0.700" fill-opacity="0.85"/><circle cx="610.26" cy="1506.64" r="3.3" fill="#f9978a" stroke="#e57a6e" stroke-width="0.700" fill-opacity="0.85"/><circle cx="585.77" cy="1518.29" r="3.3" fill="#f9978a" stroke="#e57a6e" stroke-width="0.700" fill-opacity="0.85"/><circle cx="592.64" cy="1516.80" r="3.3" fill="#f9978a" stroke="#e57a6e" stroke-width="0.700" fill-opacity="0.85"/><circle cx="585.17" cy="1525.46" r="3.3" fill="#f9978a" stroke="#e57a6e" stroke-width="0.700" fill-opacity="0.85"/><circle cx="609.07" cy="1540.69" r="3.3" fill="#f9978a" stroke="#e57a6e" stroke-width="0.700" fill-opacity="0.85"/><circle cx="598.02" cy="1543.38" r="3.3" fill="#f9978a" stroke="#e57a6e" stroke-width="0.700" fill-opacity="0.85"/><circle cx="596.22" cy="1546.07" r="3.3" fill="#f9978a" stroke="#e57a6e" stroke-width="0.700" fill-opacity="0.85"/><circle cx="617.13" cy="1549.06" r="3.3" fill="#f9978a" stroke="#e57a6e" stroke-width="0.700" fill-opacity="0.85"/><circle cx="620.42" cy="1552.04" r="3.3" fill="#f9978a" stroke="#e57a6e" stroke-width="0.700" fill-opacity="0.85"/><circle cx="616.24" cy="1552.34" r="3.3" fill="#f9978a" stroke="#e57a6e" stroke-width="0.700" fill-opacity="0.85"/><circle cx="605.19" cy="1554.13" r="3.3" fill="#f9978a" stroke="#e57a6e" stroke-width="0.700" fill-opacity="0.85"/><circle cx="625.50" cy="1561.00" r="3.3" fill="#f9978a" stroke="#e57a6e" stroke-width="0.700" fill-opacity="0.85"/><circle cx="613.55" cy="1563.09" r="3.3" fill="#f9978a" stroke="#e57a6e" stroke-width="0.700" fill-opacity="0.85"/><circle cx="607.28" cy="1566.68" r="3.3" fill="#f9978a" stroke="#e57a6e" stroke-width="0.700" fill-opacity="0.85"/><circle cx="594.13" cy="1571.16" r="3.3" fill="#f9978a" stroke="#e57a6e" stroke-width="0.700" fill-opacity="0.85"/><circle cx="596.82" cy="1571.16" r="3.3" fill="#f9978a" stroke="#e57a6e" stroke-width="0.700" fill-opacity="0.85"/><circle cx="595.03" cy="1572.65" r="3.3" fill="#f9978a" stroke="#e57a6e" stroke-width="0.700" fill-opacity="0.85"/><circle cx="600.11" cy="1575.64" r="3.3" fill="#f9978a" stroke="#e57a6e" stroke-width="0.700" fill-opacity="0.85"/><circle cx="602.20" cy="1576.24" r="3.3" fill="#f9978a" stroke="#e57a6e" stroke-width="0.700" fill-opacity="0.85"/><circle cx="606.38" cy="1577.73" r="3.3" fill="#f9978a" stroke="#e57a6e" stroke-width="0.700" fill-opacity="0.85"/><circle cx="621.31" cy="1573.55" r="3.3" fill="#f9978a" stroke="#e57a6e" stroke-width="0.700" fill-opacity="0.85"/><circle cx="610.56" cy="1580.72" r="3.3" fill="#f9978a" stroke="#e57a6e" stroke-width="0.700" fill-opacity="0.85"/><circle cx="618.33" cy="1582.51" r="3.3" fill="#f9978a" stroke="#e57a6e" stroke-width="0.700" fill-opacity="0.85"/><circle cx="583.08" cy="1586.99" r="3.3" fill="#f9978a" stroke="#e57a6e" stroke-width="0.700" fill-opacity="0.85"/><circle cx="595.63" cy="1595.05" r="3.3" fill="#f9978a" stroke="#e57a6e" stroke-width="0.700" fill-opacity="0.85"/><circle cx="598.02" cy="1596.25" r="3.3" fill="#f9978a" stroke="#e57a6e" stroke-width="0.700" fill-opacity="0.85"/><circle cx="583.98" cy="1608.49" r="3.3" fill="#f9978a" stroke="#e57a6e" stroke-width="0.700" fill-opacity="0.85"/><circle cx="609.67" cy="1626.12" r="3.3" fill="#f9978a" stroke="#e57a6e" stroke-width="0.700" fill-opacity="0.85"/><circle cx="589.95" cy="1629.40" r="3.3" fill="#f9978a" stroke="#e57a6e" stroke-width="0.700" fill-opacity="0.85"/><path d="M638.34 1430.78 C638.49 1433.76 638.59 1442.23 639.24 1448.70 C639.88 1455.17 640.93 1461.14 642.22 1469.61 C643.52 1478.07 645.61 1490.51 647.00 1499.47 C648.40 1508.43 649.59 1517.40 650.59 1523.37 C651.58 1529.34 651.33 1531.33 652.97 1535.32 C654.62 1539.30 657.65 1543.28 660.44 1547.26 C663.23 1551.25 667.46 1555.23 669.70 1559.21 C671.94 1563.19 673.58 1567.18 673.88 1571.16 C674.18 1575.14 673.39 1579.12 671.49 1583.11 C669.60 1587.09 666.02 1591.07 662.53 1595.05 C659.05 1599.04 653.57 1603.02 650.59 1607.00 C647.60 1610.98 646.15 1614.47 644.61 1618.95 C643.07 1623.43 642.17 1628.90 641.33 1633.88 C640.48 1638.86 640.03 1643.34 639.53 1648.82 C639.04 1654.29 638.54 1663.75 638.34 1666.74Z" fill="#f98270" stroke="#e2564c" stroke-width="0.9"/><line x1="724.10" y1="1508.40" x2="724.10" y2="1537.70" stroke="#86b85a" stroke-width="1"/><line x1="724.10" y1="1568.80" x2="724.10" y2="1613.30" stroke="#86b85a" stroke-width="1"/><line x1="712.70" y1="1508.40" x2="735.10" y2="1508.40" stroke="#86b85a" stroke-width="1"/><line x1="712.70" y1="1613.30" x2="735.10" y2="1613.30" stroke="#86b85a" stroke-width="1"/><rect x="701.70" y="1537.70" width="44.80" height="31.10" fill="#8fc852" stroke="#6aa43a" stroke-width="0.9"/><line x1="701.70" y1="1557.70" x2="746.50" y2="1557.70" stroke="#6aa43a" stroke-width="2"/><circle cx="776.33" cy="1464.53" r="3.3" fill="#9fce6e" stroke="#79b046" stroke-width="0.700" fill-opacity="0.85"/><circle cx="764.68" cy="1471.10" r="3.3" fill="#9fce6e" stroke="#79b046" stroke-width="0.700" fill-opacity="0.85"/><circle cx="784.99" cy="1508.73" r="3.3" fill="#9fce6e" stroke="#79b046" stroke-width="0.700" fill-opacity="0.85"/><circle cx="791.57" cy="1509.63" r="3.3" fill="#9fce6e" stroke="#79b046" stroke-width="0.700" fill-opacity="0.85"/><circle cx="799.93" cy="1517.99" r="3.3" fill="#9fce6e" stroke="#79b046" stroke-width="0.700" fill-opacity="0.85"/><circle cx="795.45" cy="1521.28" r="3.3" fill="#9fce6e" stroke="#79b046" stroke-width="0.700" fill-opacity="0.85"/><circle cx="794.55" cy="1531.14" r="3.3" fill="#9fce6e" stroke="#79b046" stroke-width="0.700" fill-opacity="0.85"/><circle cx="767.07" cy="1537.11" r="3.3" fill="#9fce6e" stroke="#79b046" stroke-width="0.700" fill-opacity="0.85"/><circle cx="772.15" cy="1538.90" r="3.3" fill="#9fce6e" stroke="#79b046" stroke-width="0.700" fill-opacity="0.85"/><circle cx="784.10" cy="1538.00" r="3.3" fill="#9fce6e" stroke="#79b046" stroke-width="0.700" fill-opacity="0.85"/><circle cx="791.86" cy="1540.39" r="3.3" fill="#9fce6e" stroke="#79b046" stroke-width="0.700" fill-opacity="0.85"/><circle cx="798.14" cy="1538.30" r="3.3" fill="#9fce6e" stroke="#79b046" stroke-width="0.700" fill-opacity="0.85"/><circle cx="770.36" cy="1553.24" r="3.3" fill="#9fce6e" stroke="#79b046" stroke-width="0.700" fill-opacity="0.85"/><circle cx="794.85" cy="1552.64" r="3.3" fill="#9fce6e" stroke="#79b046" stroke-width="0.700" fill-opacity="0.85"/><circle cx="798.43" cy="1553.84" r="3.3" fill="#9fce6e" stroke="#79b046" stroke-width="0.700" fill-opacity="0.85"/><circle cx="766.77" cy="1558.61" r="3.3" fill="#9fce6e" stroke="#79b046" stroke-width="0.700" fill-opacity="0.85"/><circle cx="770.66" cy="1556.82" r="3.3" fill="#9fce6e" stroke="#79b046" stroke-width="0.700" fill-opacity="0.85"/><circle cx="772.45" cy="1561.90" r="3.3" fill="#9fce6e" stroke="#79b046" stroke-width="0.700" fill-opacity="0.85"/><circle cx="789.18" cy="1559.81" r="3.3" fill="#9fce6e" stroke="#79b046" stroke-width="0.700" fill-opacity="0.85"/><circle cx="791.86" cy="1562.20" r="3.3" fill="#9fce6e" stroke="#79b046" stroke-width="0.700" fill-opacity="0.85"/><circle cx="775.44" cy="1566.68" r="3.3" fill="#9fce6e" stroke="#79b046" stroke-width="0.700" fill-opacity="0.85"/><circle cx="776.93" cy="1568.17" r="3.3" fill="#9fce6e" stroke="#79b046" stroke-width="0.700" fill-opacity="0.85"/><circle cx="767.37" cy="1568.17" r="3.3" fill="#9fce6e" stroke="#79b046" stroke-width="0.700" fill-opacity="0.85"/><circle cx="782.31" cy="1569.37" r="3.3" fill="#9fce6e" stroke="#79b046" stroke-width="0.700" fill-opacity="0.85"/><circle cx="784.99" cy="1568.17" r="3.3" fill="#9fce6e" stroke="#79b046" stroke-width="0.700" fill-opacity="0.85"/><circle cx="763.49" cy="1571.76" r="3.3" fill="#9fce6e" stroke="#79b046" stroke-width="0.700" fill-opacity="0.85"/><circle cx="798.14" cy="1572.35" r="3.3" fill="#9fce6e" stroke="#79b046" stroke-width="0.700" fill-opacity="0.85"/><circle cx="770.36" cy="1576.54" r="3.3" fill="#9fce6e" stroke="#79b046" stroke-width="0.700" fill-opacity="0.85"/><circle cx="795.15" cy="1592.66" r="3.3" fill="#9fce6e" stroke="#79b046" stroke-width="0.700" fill-opacity="0.85"/><circle cx="797.84" cy="1604.31" r="3.3" fill="#9fce6e" stroke="#79b046" stroke-width="0.700" fill-opacity="0.85"/><circle cx="762.00" cy="1613.57" r="3.3" fill="#9fce6e" stroke="#79b046" stroke-width="0.700" fill-opacity="0.85"/><circle cx="771.85" cy="1613.57" r="3.3" fill="#9fce6e" stroke="#79b046" stroke-width="0.700" fill-opacity="0.85"/><path d="M816.36 1433.17 C816.75 1435.75 817.95 1443.12 818.75 1448.70 C819.54 1454.27 820.99 1461.14 821.14 1466.62 C821.28 1472.09 820.04 1477.07 819.64 1481.55 C819.24 1486.03 818.40 1489.52 818.75 1493.50 C819.09 1497.48 820.09 1500.47 821.73 1505.45 C823.38 1510.43 826.06 1517.40 828.60 1523.37 C831.14 1529.34 834.08 1536.31 836.97 1541.29 C839.85 1546.27 843.59 1549.75 845.93 1553.24 C848.27 1556.72 850.90 1559.21 851.00 1562.20 C851.10 1565.19 849.26 1568.17 846.52 1571.16 C843.79 1574.15 838.11 1577.13 834.58 1580.12 C831.04 1583.11 827.21 1585.10 825.32 1589.08 C823.42 1593.06 824.07 1599.04 823.23 1604.01 C822.38 1608.99 821.14 1613.97 820.24 1618.95 C819.34 1623.93 818.50 1629.55 817.85 1633.88 C817.20 1638.21 816.60 1643.09 816.36 1644.93Z" fill="#8fc852" stroke="#6aa43a" stroke-width="0.9"/><line x1="973.60" y1="1419.70" x2="973.60" y2="1683.20" stroke="#9a9a9a" stroke-width="1"/><line x1="973.60" y1="1683.20" x2="1353.60" y2="1683.20" stroke="#9a9a9a" stroke-width="1"/><line x1="973.60" y1="1683.20" x2="981.10" y2="1683.20" stroke="#9a9a9a" stroke-width="1"/><text transform="translate(970.00 1687.92) scale(1.13 1)" text-anchor="end" font-size="13.3" fill="#4a4a4a">−100</text><line x1="973.60" y1="1630.50" x2="981.10" y2="1630.50" stroke="#9a9a9a" stroke-width="1"/><text transform="translate(970.00 1635.22) scale(1.13 1)" text-anchor="end" font-size="13.3" fill="#4a4a4a">0</text><line x1="973.60" y1="1577.80" x2="981.10" y2="1577.80" stroke="#9a9a9a" stroke-width="1"/><text transform="translate(970.00 1582.52) scale(1.13 1)" text-anchor="end" font-size="13.3" fill="#4a4a4a">100</text><line x1="973.60" y1="1525.10" x2="981.10" y2="1525.10" stroke="#9a9a9a" stroke-width="1"/><text transform="translate(970.00 1529.82) scale(1.13 1)" text-anchor="end" font-size="13.3" fill="#4a4a4a">200</text><line x1="973.60" y1="1472.40" x2="981.10" y2="1472.40" stroke="#9a9a9a" stroke-width="1"/><text transform="translate(970.00 1477.12) scale(1.13 1)" text-anchor="end" font-size="13.3" fill="#4a4a4a">300</text><line x1="973.60" y1="1419.70" x2="981.10" y2="1419.70" stroke="#9a9a9a" stroke-width="1"/><text transform="translate(970.00 1424.42) scale(1.13 1)" text-anchor="end" font-size="13.3" fill="#4a4a4a">400</text><line x1="1027.40" y1="1472.90" x2="1201.50" y2="1472.90" stroke="#555" stroke-width="1.1"/><text x="1114.30" y="1477.60" text-anchor="middle" font-size="19.5" fill="#333">*</text><line x1="1028.60" y1="1548.50" x2="1028.60" y2="1572.70" stroke="#6a6fb5" stroke-width="1"/><line x1="1028.60" y1="1602.50" x2="1028.60" y2="1622.20" stroke="#6a6fb5" stroke-width="1"/><line x1="1017.80" y1="1548.50" x2="1039.30" y2="1548.50" stroke="#6a6fb5" stroke-width="1"/><line x1="1017.80" y1="1622.20" x2="1039.30" y2="1622.20" stroke="#6a6fb5" stroke-width="1"/><rect x="1006.50" y="1572.70" width="43.90" height="29.80" fill="#9fa3d8" stroke="#686db3" stroke-width="0.9"/><line x1="1006.50" y1="1590.60" x2="1050.40" y2="1590.60" stroke="#5d62a8" stroke-width="2"/><circle cx="1079.07" cy="1548.46" r="3.3" fill="#b4b7e2" stroke="#7f84c0" stroke-width="0.700" fill-opacity="0.85"/><circle cx="1085.94" cy="1561.00" r="3.3" fill="#b4b7e2" stroke="#7f84c0" stroke-width="0.700" fill-opacity="0.85"/><circle cx="1082.35" cy="1571.16" r="3.3" fill="#b4b7e2" stroke="#7f84c0" stroke-width="0.700" fill-opacity="0.85"/><circle cx="1066.82" cy="1572.35" r="3.3" fill="#b4b7e2" stroke="#7f84c0" stroke-width="0.700" fill-opacity="0.85"/><circle cx="1097.59" cy="1572.05" r="3.3" fill="#b4b7e2" stroke="#7f84c0" stroke-width="0.700" fill-opacity="0.85"/><circle cx="1101.77" cy="1569.07" r="3.3" fill="#b4b7e2" stroke="#7f84c0" stroke-width="0.700" fill-opacity="0.85"/><circle cx="1081.16" cy="1583.11" r="3.3" fill="#b4b7e2" stroke="#7f84c0" stroke-width="0.700" fill-opacity="0.85"/><circle cx="1091.02" cy="1583.41" r="3.3" fill="#b4b7e2" stroke="#7f84c0" stroke-width="0.700" fill-opacity="0.85"/><circle cx="1084.15" cy="1586.09" r="3.3" fill="#b4b7e2" stroke="#7f84c0" stroke-width="0.700" fill-opacity="0.85"/><circle cx="1065.33" cy="1586.09" r="3.3" fill="#b4b7e2" stroke="#7f84c0" stroke-width="0.700" fill-opacity="0.85"/><circle cx="1102.37" cy="1589.08" r="3.3" fill="#b4b7e2" stroke="#7f84c0" stroke-width="0.700" fill-opacity="0.85"/><circle cx="1073.69" cy="1592.37" r="3.3" fill="#b4b7e2" stroke="#7f84c0" stroke-width="0.700" fill-opacity="0.85"/><circle cx="1087.43" cy="1593.56" r="3.3" fill="#b4b7e2" stroke="#7f84c0" stroke-width="0.700" fill-opacity="0.85"/><circle cx="1085.94" cy="1596.85" r="3.3" fill="#b4b7e2" stroke="#7f84c0" stroke-width="0.700" fill-opacity="0.85"/><circle cx="1088.03" cy="1596.25" r="3.3" fill="#b4b7e2" stroke="#7f84c0" stroke-width="0.700" fill-opacity="0.85"/><circle cx="1061.74" cy="1601.33" r="3.3" fill="#b4b7e2" stroke="#7f84c0" stroke-width="0.700" fill-opacity="0.85"/><circle cx="1103.26" cy="1601.03" r="3.3" fill="#b4b7e2" stroke="#7f84c0" stroke-width="0.700" fill-opacity="0.85"/><circle cx="1077.87" cy="1605.51" r="3.3" fill="#b4b7e2" stroke="#7f84c0" stroke-width="0.700" fill-opacity="0.85"/><circle cx="1085.94" cy="1607.60" r="3.3" fill="#b4b7e2" stroke="#7f84c0" stroke-width="0.700" fill-opacity="0.85"/><circle cx="1069.21" cy="1613.87" r="3.3" fill="#b4b7e2" stroke="#7f84c0" stroke-width="0.700" fill-opacity="0.85"/><circle cx="1087.13" cy="1613.87" r="3.3" fill="#b4b7e2" stroke="#7f84c0" stroke-width="0.700" fill-opacity="0.85"/><circle cx="1063.84" cy="1620.44" r="3.3" fill="#b4b7e2" stroke="#7f84c0" stroke-width="0.700" fill-opacity="0.85"/><circle cx="1062.34" cy="1622.53" r="3.3" fill="#b4b7e2" stroke="#7f84c0" stroke-width="0.700" fill-opacity="0.85"/><path d="M1119.39 1519.78 C1119.74 1522.37 1119.89 1529.74 1121.48 1535.32 C1123.07 1540.89 1125.22 1547.26 1128.95 1553.24 C1132.68 1559.21 1139.90 1565.68 1143.88 1571.16 C1147.87 1576.63 1151.00 1582.51 1152.84 1586.09 C1154.69 1589.68 1154.93 1590.18 1154.93 1592.66 C1154.93 1595.15 1154.69 1597.64 1152.84 1601.03 C1151.00 1604.41 1147.62 1608.99 1143.88 1612.97 C1140.15 1616.96 1134.03 1620.94 1130.44 1624.92 C1126.86 1628.90 1124.22 1632.54 1122.38 1636.87 C1120.54 1641.20 1119.89 1648.57 1119.39 1650.91Z" fill="#9fa3d8" stroke="#5d62a8" stroke-width="0.9"/><line x1="1202.40" y1="1524.60" x2="1202.40" y2="1564.30" stroke="#0a4a2a" stroke-width="1"/><line x1="1202.40" y1="1596.80" x2="1202.40" y2="1618.70" stroke="#0a4a2a" stroke-width="1"/><line x1="1191.10" y1="1524.60" x2="1213.50" y2="1524.60" stroke="#0a4a2a" stroke-width="1"/><line x1="1191.10" y1="1618.70" x2="1213.50" y2="1618.70" stroke="#0a4a2a" stroke-width="1"/><rect x="1180.60" y="1564.30" width="43.90" height="32.50" fill="#04693a" stroke="#0a4a2a" stroke-width="0.9"/><line x1="1180.60" y1="1585.50" x2="1224.50" y2="1585.50" stroke="#034a28" stroke-width="2"/><circle cx="1254.10" cy="1492.90" r="3.3" fill="#3c7d56" stroke="#2f6e49" stroke-width="0.700" fill-opacity="0.9"/><circle cx="1244.24" cy="1524.56" r="3.3" fill="#3c7d56" stroke="#2f6e49" stroke-width="0.700" fill-opacity="0.9"/><circle cx="1271.42" cy="1527.85" r="3.3" fill="#3c7d56" stroke="#2f6e49" stroke-width="0.700" fill-opacity="0.9"/><circle cx="1250.81" cy="1559.21" r="3.3" fill="#3c7d56" stroke="#2f6e49" stroke-width="0.700" fill-opacity="0.9"/><circle cx="1261.57" cy="1562.20" r="3.3" fill="#3c7d56" stroke="#2f6e49" stroke-width="0.700" fill-opacity="0.9"/><circle cx="1277.99" cy="1561.30" r="3.3" fill="#3c7d56" stroke="#2f6e49" stroke-width="0.700" fill-opacity="0.9"/><circle cx="1253.20" cy="1566.68" r="3.3" fill="#3c7d56" stroke="#2f6e49" stroke-width="0.700" fill-opacity="0.9"/><circle cx="1257.98" cy="1568.47" r="3.3" fill="#3c7d56" stroke="#2f6e49" stroke-width="0.700" fill-opacity="0.9"/><circle cx="1239.46" cy="1570.56" r="3.3" fill="#3c7d56" stroke="#2f6e49" stroke-width="0.700" fill-opacity="0.9"/><circle cx="1260.37" cy="1580.12" r="3.3" fill="#3c7d56" stroke="#2f6e49" stroke-width="0.700" fill-opacity="0.9"/><circle cx="1251.71" cy="1586.39" r="3.3" fill="#3c7d56" stroke="#2f6e49" stroke-width="0.700" fill-opacity="0.9"/><circle cx="1249.92" cy="1589.08" r="3.3" fill="#3c7d56" stroke="#2f6e49" stroke-width="0.700" fill-opacity="0.9"/><circle cx="1263.95" cy="1585.50" r="3.3" fill="#3c7d56" stroke="#2f6e49" stroke-width="0.700" fill-opacity="0.9"/><circle cx="1267.54" cy="1590.87" r="3.3" fill="#3c7d56" stroke="#2f6e49" stroke-width="0.700" fill-opacity="0.9"/><circle cx="1277.69" cy="1594.76" r="3.3" fill="#3c7d56" stroke="#2f6e49" stroke-width="0.700" fill-opacity="0.9"/><circle cx="1246.03" cy="1598.64" r="3.3" fill="#3c7d56" stroke="#2f6e49" stroke-width="0.700" fill-opacity="0.9"/><circle cx="1249.62" cy="1601.03" r="3.3" fill="#3c7d56" stroke="#2f6e49" stroke-width="0.700" fill-opacity="0.9"/><circle cx="1253.50" cy="1602.22" r="3.3" fill="#3c7d56" stroke="#2f6e49" stroke-width="0.700" fill-opacity="0.9"/><circle cx="1247.83" cy="1607.90" r="3.3" fill="#3c7d56" stroke="#2f6e49" stroke-width="0.700" fill-opacity="0.9"/><circle cx="1244.84" cy="1615.96" r="3.3" fill="#3c7d56" stroke="#2f6e49" stroke-width="0.700" fill-opacity="0.9"/><circle cx="1269.33" cy="1618.65" r="3.3" fill="#3c7d56" stroke="#2f6e49" stroke-width="0.700" fill-opacity="0.9"/><circle cx="1236.48" cy="1579.52" r="3.3" fill="#19a583" stroke="#19a583" stroke-width="0.700" fill-opacity="1"/><path d="M1296.21 1458.26 C1296.61 1462.64 1298.00 1476.18 1298.60 1484.54 C1299.20 1492.90 1299.05 1501.96 1299.80 1508.43 C1300.54 1514.91 1302.44 1518.89 1303.08 1523.37 C1303.73 1527.85 1303.28 1532.08 1303.68 1535.32 C1304.08 1538.55 1303.73 1539.80 1305.47 1542.78 C1307.21 1545.77 1310.70 1548.51 1314.13 1553.24 C1317.57 1557.97 1323.19 1565.19 1326.08 1571.16 C1328.97 1577.13 1331.16 1584.10 1331.46 1589.08 C1331.76 1594.06 1330.66 1596.55 1327.87 1601.03 C1325.09 1605.51 1318.91 1610.98 1314.73 1615.96 C1310.55 1620.94 1305.57 1626.42 1302.78 1630.90 C1300.00 1635.38 1299.10 1639.11 1298.00 1642.84 C1296.91 1646.58 1296.51 1651.56 1296.21 1653.30Z" fill="#1f7a4d" stroke="#04693a" stroke-width="0.9"/><line x1="1468.00" y1="1373.60" x2="1468.00" y2="1683.00" stroke="#9a9a9a" stroke-width="1"/><line x1="1468.00" y1="1683.00" x2="1735.70" y2="1683.00" stroke="#9a9a9a" stroke-width="1"/><line x1="1468.00" y1="1683.00" x2="1471.40" y2="1683.00" stroke="#9a9a9a" stroke-width="1"/><text transform="translate(1463.80 1687.72) scale(1.13 1)" text-anchor="end" font-size="13.3" fill="#4a4a4a">0</text><line x1="1468.00" y1="1638.80" x2="1471.40" y2="1638.80" stroke="#9a9a9a" stroke-width="1"/><text transform="translate(1463.80 1643.52) scale(1.13 1)" text-anchor="end" font-size="13.3" fill="#4a4a4a">0.02</text><line x1="1468.00" y1="1594.60" x2="1471.40" y2="1594.60" stroke="#9a9a9a" stroke-width="1"/><text transform="translate(1463.80 1599.32) scale(1.13 1)" text-anchor="end" font-size="13.3" fill="#4a4a4a">0.04</text><line x1="1468.00" y1="1550.40" x2="1471.40" y2="1550.40" stroke="#9a9a9a" stroke-width="1"/><text transform="translate(1463.80 1555.12) scale(1.13 1)" text-anchor="end" font-size="13.3" fill="#4a4a4a">0.06</text><line x1="1468.00" y1="1506.20" x2="1471.40" y2="1506.20" stroke="#9a9a9a" stroke-width="1"/><text transform="translate(1463.80 1510.92) scale(1.13 1)" text-anchor="end" font-size="13.3" fill="#4a4a4a">0.08</text><line x1="1468.00" y1="1462.00" x2="1471.40" y2="1462.00" stroke="#9a9a9a" stroke-width="1"/><text transform="translate(1463.80 1466.72) scale(1.13 1)" text-anchor="end" font-size="13.3" fill="#4a4a4a">0.1</text><line x1="1468.00" y1="1417.80" x2="1471.40" y2="1417.80" stroke="#9a9a9a" stroke-width="1"/><text transform="translate(1463.80 1422.52) scale(1.13 1)" text-anchor="end" font-size="13.3" fill="#4a4a4a">0.12</text><line x1="1468.00" y1="1373.60" x2="1471.40" y2="1373.60" stroke="#9a9a9a" stroke-width="1"/><text transform="translate(1463.80 1378.32) scale(1.13 1)" text-anchor="end" font-size="13.3" fill="#4a4a4a">0.14</text><rect x="1514.60" y="1471.40" width="82.50" height="211.60" fill="#9fa3d8" stroke="#686db3" stroke-width="1.6"/><rect x="1628.10" y="1457.20" width="83.40" height="225.80" fill="#04693a" stroke="#0a4a2a" stroke-width="1.2"/><line x1="1555.70" y1="1420.00" x2="1555.70" y2="1522.10" stroke="#686db3" stroke-width="1.3"/><line x1="1552.90" y1="1420.00" x2="1558.50" y2="1420.00" stroke="#686db3" stroke-width="1.3"/><line x1="1552.90" y1="1522.10" x2="1558.50" y2="1522.10" stroke="#686db3" stroke-width="1.3"/><line x1="1669.90" y1="1402.30" x2="1669.90" y2="1511.40" stroke="#0a4a2a" stroke-width="1.3"/><line x1="1667.10" y1="1402.30" x2="1672.70" y2="1402.30" stroke="#0a4a2a" stroke-width="1.3"/><line x1="1667.10" y1="1511.40" x2="1672.70" y2="1511.40" stroke="#0a4a2a" stroke-width="1.3"/><line x1="1552.90" y1="1393.60" x2="1668.50" y2="1393.60" stroke="#555" stroke-width="1.1"/><text x="1610.60" y="1389.90" text-anchor="middle" font-size="14.5" fill="#333" font-weight="700">n.s.</text><line x1="119.40" y1="1840.10" x2="119.40" y2="2149.20" stroke="#9a9a9a" stroke-width="1"/><line x1="119.40" y1="2149.20" x2="428.50" y2="2149.20" stroke="#9a9a9a" stroke-width="1"/><line x1="119.40" y1="2149.20" x2="122.80" y2="2149.20" stroke="#9a9a9a" stroke-width="1"/><text transform="translate(115.90 2154.17) scale(1.13 1)" text-anchor="end" font-size="14" fill="#4a4a4a">0</text><line x1="119.40" y1="2105.04" x2="122.80" y2="2105.04" stroke="#9a9a9a" stroke-width="1"/><text transform="translate(115.90 2110.01) scale(1.13 1)" text-anchor="end" font-size="14" fill="#4a4a4a">0.01</text><line x1="119.40" y1="2060.89" x2="122.80" y2="2060.89" stroke="#9a9a9a" stroke-width="1"/><text transform="translate(115.90 2065.86) scale(1.13 1)" text-anchor="end" font-size="14" fill="#4a4a4a">0.02</text><line x1="119.40" y1="2016.73" x2="122.80" y2="2016.73" stroke="#9a9a9a" stroke-width="1"/><text transform="translate(115.90 2021.70) scale(1.13 1)" text-anchor="end" font-size="14" fill="#4a4a4a">0.03</text><line x1="119.40" y1="1972.57" x2="122.80" y2="1972.57" stroke="#9a9a9a" stroke-width="1"/><text transform="translate(115.90 1977.54) scale(1.13 1)" text-anchor="end" font-size="14" fill="#4a4a4a">0.04</text><line x1="119.40" y1="1928.41" x2="122.80" y2="1928.41" stroke="#9a9a9a" stroke-width="1"/><text transform="translate(115.90 1933.38) scale(1.13 1)" text-anchor="end" font-size="14" fill="#4a4a4a">0.05</text><line x1="119.40" y1="1884.26" x2="122.80" y2="1884.26" stroke="#9a9a9a" stroke-width="1"/><text transform="translate(115.90 1889.23) scale(1.13 1)" text-anchor="end" font-size="14" fill="#4a4a4a">0.06</text><line x1="119.40" y1="1840.10" x2="122.80" y2="1840.10" stroke="#9a9a9a" stroke-width="1"/><text transform="translate(115.90 1845.07) scale(1.13 1)" text-anchor="end" font-size="14" fill="#4a4a4a">0.07</text><rect x="163.70" y="1958.50" width="51.10" height="190.70" fill="#fbac45" stroke="#f9a23a" stroke-width="1"/><rect x="220.10" y="1910.20" width="50.50" height="239.00" fill="#dc1a5a" stroke="#dc1a5a" stroke-width="1"/><rect x="303.10" y="2016.60" width="50.50" height="132.60" fill="#fdbd68" stroke="#fbb458" stroke-width="1"/><rect x="358.90" y="2000.30" width="50.80" height="148.90" fill="#e65877" stroke="#e04a6c" stroke-width="1"/><line x1="188.90" y1="1923.70" x2="188.90" y2="1992.70" stroke="#f5981f" stroke-width="1.3"/><line x1="186.10" y1="1923.70" x2="191.70" y2="1923.70" stroke="#f5981f" stroke-width="1.3"/><line x1="186.10" y1="1992.70" x2="191.70" y2="1992.70" stroke="#f5981f" stroke-width="1.3"/><line x1="245.30" y1="1867.90" x2="245.30" y2="1952.60" stroke="#b8174f" stroke-width="1.3"/><line x1="242.50" y1="1867.90" x2="248.10" y2="1867.90" stroke="#b8174f" stroke-width="1.3"/><line x1="242.50" y1="1952.60" x2="248.10" y2="1952.60" stroke="#b8174f" stroke-width="1.3"/><line x1="328.30" y1="1989.80" x2="328.30" y2="2043.00" stroke="#f5981f" stroke-width="1.3"/><line x1="325.50" y1="1989.80" x2="331.10" y2="1989.80" stroke="#f5981f" stroke-width="1.3"/><line x1="325.50" y1="2043.00" x2="331.10" y2="2043.00" stroke="#f5981f" stroke-width="1.3"/><line x1="384.10" y1="1969.80" x2="384.10" y2="2030.40" stroke="#c2244f" stroke-width="1.3"/><line x1="381.30" y1="1969.80" x2="386.90" y2="1969.80" stroke="#c2244f" stroke-width="1.3"/><line x1="381.30" y1="2030.40" x2="386.90" y2="2030.40" stroke="#c2244f" stroke-width="1.3"/><line x1="191.20" y1="1855.80" x2="248.50" y2="1855.80" stroke="#555" stroke-width="1.1"/><path d="M217.500 1855.800 V1848.400 H358.400 V1946.600" fill="none" stroke="#444" stroke-width="1.100"/><line x1="329.80" y1="1946.60" x2="387.00" y2="1946.60" stroke="#444" stroke-width="1.1"/><text x="289.100" y="1854.400" text-anchor="middle" font-size="20" fill="#333">***</text><rect x="309.200" y="1806.300" width="118.700" height="28.100" fill="#fff" stroke="#d5e3ea" stroke-width="0.800" stroke-dasharray="2.500 2"/><rect x="312.600" y="1810" width="28" height="8" fill="#fbac45"/><rect x="312.600" y="1822.300" width="28" height="8.100" fill="#dc1a5a"/><line x1="526.50" y1="1901.60" x2="526.50" y2="2112.10" stroke="#8a8f94" stroke-width="1"/><line x1="526.50" y1="2112.10" x2="739.10" y2="2112.10" stroke="#8a8f94" stroke-width="1"/><line x1="526.50" y1="2112.10" x2="529.50" y2="2112.10" stroke="#8a8f94" stroke-width="1"/><text transform="translate(523.20 2117.25) scale(1.13 1)" text-anchor="end" font-size="14.5" fill="#4a4a4a">40</text><line x1="526.50" y1="2085.79" x2="529.50" y2="2085.79" stroke="#8a8f94" stroke-width="1"/><text transform="translate(523.20 2090.93) scale(1.13 1)" text-anchor="end" font-size="14.5" fill="#4a4a4a">50</text><line x1="526.50" y1="2059.47" x2="529.50" y2="2059.47" stroke="#8a8f94" stroke-width="1"/><text transform="translate(523.20 2064.62) scale(1.13 1)" text-anchor="end" font-size="14.5" fill="#4a4a4a">60</text><line x1="526.50" y1="2033.16" x2="529.50" y2="2033.16" stroke="#8a8f94" stroke-width="1"/><text transform="translate(523.20 2038.31) scale(1.13 1)" text-anchor="end" font-size="14.5" fill="#4a4a4a">70</text><line x1="526.50" y1="2006.85" x2="529.50" y2="2006.85" stroke="#8a8f94" stroke-width="1"/><text transform="translate(523.20 2012.00) scale(1.13 1)" text-anchor="end" font-size="14.5" fill="#4a4a4a">80</text><line x1="526.50" y1="1980.54" x2="529.50" y2="1980.54" stroke="#8a8f94" stroke-width="1"/><text transform="translate(523.20 1985.68) scale(1.13 1)" text-anchor="end" font-size="14.5" fill="#4a4a4a">90</text><line x1="526.50" y1="1954.22" x2="529.50" y2="1954.22" stroke="#8a8f94" stroke-width="1"/><text transform="translate(523.20 1959.37) scale(1.13 1)" text-anchor="end" font-size="14.5" fill="#4a4a4a">100</text><line x1="526.50" y1="1927.91" x2="529.50" y2="1927.91" stroke="#8a8f94" stroke-width="1"/><text transform="translate(523.20 1933.06) scale(1.13 1)" text-anchor="end" font-size="14.5" fill="#4a4a4a">110</text><line x1="526.50" y1="1901.60" x2="529.50" y2="1901.60" stroke="#8a8f94" stroke-width="1"/><text transform="translate(523.20 1906.75) scale(1.13 1)" text-anchor="end" font-size="14.5" fill="#4a4a4a">120</text><rect x="557.50" y="2070.90" width="34.10" height="41.20" fill="#f98270" stroke="#e2564c" stroke-width="1.2"/><rect x="595.50" y="2059.90" width="34.30" height="52.20" fill="#8fc852" stroke="#6aa43a" stroke-width="1.2"/><rect x="652.35" y="2013.15" width="33.80" height="98.95" fill="#9fa3d8" stroke="#686db3" stroke-width="1.5"/><rect x="690.50" y="1952.90" width="34.00" height="159.20" fill="#04693a" stroke="#0a4a2a" stroke-width="1.2"/><line x1="574.60" y1="2060.20" x2="574.60" y2="2081.10" stroke="#e2564c" stroke-width="1.3"/><line x1="571.80" y1="2060.20" x2="577.40" y2="2060.20" stroke="#e2564c" stroke-width="1.3"/><line x1="571.80" y1="2081.10" x2="577.40" y2="2081.10" stroke="#e2564c" stroke-width="1.3"/><line x1="612.80" y1="2049.70" x2="612.80" y2="2068.80" stroke="#6aa43a" stroke-width="1.3"/><line x1="610.00" y1="2049.70" x2="615.60" y2="2049.70" stroke="#6aa43a" stroke-width="1.3"/><line x1="610.00" y1="2068.80" x2="615.60" y2="2068.80" stroke="#6aa43a" stroke-width="1.3"/><line x1="669.20" y1="1992.70" x2="669.20" y2="2032.70" stroke="#686db3" stroke-width="1.5"/><line x1="666.40" y1="1992.70" x2="672.00" y2="1992.70" stroke="#686db3" stroke-width="1.5"/><line x1="666.40" y1="2032.70" x2="672.00" y2="2032.70" stroke="#686db3" stroke-width="1.5"/><line x1="707.50" y1="1921.90" x2="707.50" y2="1983.70" stroke="#0a4a2a" stroke-width="1.5"/><line x1="704.70" y1="1921.90" x2="710.30" y2="1921.90" stroke="#0a4a2a" stroke-width="1.5"/><line x1="704.70" y1="1983.70" x2="710.30" y2="1983.70" stroke="#0a4a2a" stroke-width="1.5"/><line x1="574.60" y1="2040.50" x2="614.30" y2="2040.50" stroke="#555" stroke-width="1.1"/><text x="594.30" y="2043.20" text-anchor="middle" font-size="14.3" fill="#333">*</text><line x1="593.40" y1="1897.40" x2="689.90" y2="1897.40" stroke="#555" stroke-width="1.1"/><text x="641.50" y="1900.10" text-anchor="middle" font-size="14.3" fill="#333">**</text><line x1="670.40" y1="1912.30" x2="709.90" y2="1912.30" stroke="#555" stroke-width="1.1"/><text x="689.90" y="1915.00" text-anchor="middle" font-size="14.3" fill="#333">*</text><line x1="814.70" y1="1905.40" x2="814.70" y2="2114.50" stroke="#8a8f94" stroke-width="1"/><line x1="814.70" y1="2114.50" x2="1025.50" y2="2114.50" stroke="#8a8f94" stroke-width="1"/><line x1="814.70" y1="2114.50" x2="817.70" y2="2114.50" stroke="#8a8f94" stroke-width="1"/><text transform="translate(811.40 2119.65) scale(1.13 1)" text-anchor="end" font-size="14.5" fill="#4a4a4a">0</text><line x1="814.70" y1="2084.63" x2="817.70" y2="2084.63" stroke="#8a8f94" stroke-width="1"/><text transform="translate(811.40 2089.78) scale(1.13 1)" text-anchor="end" font-size="14.5" fill="#4a4a4a">0.02</text><line x1="814.70" y1="2054.76" x2="817.70" y2="2054.76" stroke="#8a8f94" stroke-width="1"/><text transform="translate(811.40 2059.90) scale(1.13 1)" text-anchor="end" font-size="14.5" fill="#4a4a4a">0.04</text><line x1="814.70" y1="2024.89" x2="817.70" y2="2024.89" stroke="#8a8f94" stroke-width="1"/><text transform="translate(811.40 2030.03) scale(1.13 1)" text-anchor="end" font-size="14.5" fill="#4a4a4a">0.06</text><line x1="814.70" y1="1995.01" x2="817.70" y2="1995.01" stroke="#8a8f94" stroke-width="1"/><text transform="translate(811.40 2000.16) scale(1.13 1)" text-anchor="end" font-size="14.5" fill="#4a4a4a">0.08</text><line x1="814.70" y1="1965.14" x2="817.70" y2="1965.14" stroke="#8a8f94" stroke-width="1"/><text transform="translate(811.40 1970.29) scale(1.13 1)" text-anchor="end" font-size="14.5" fill="#4a4a4a">0.1</text><line x1="814.70" y1="1935.27" x2="817.70" y2="1935.27" stroke="#8a8f94" stroke-width="1"/><text transform="translate(811.40 1940.42) scale(1.13 1)" text-anchor="end" font-size="14.5" fill="#4a4a4a">0.12</text><line x1="814.70" y1="1905.40" x2="817.70" y2="1905.40" stroke="#8a8f94" stroke-width="1"/><text transform="translate(811.40 1910.55) scale(1.13 1)" text-anchor="end" font-size="14.5" fill="#4a4a4a">0.14</text><rect x="845.20" y="1935.00" width="34.00" height="179.50" fill="#f98270" stroke="#e2564c" stroke-width="1.2"/><rect x="883.40" y="2006.70" width="33.30" height="107.80" fill="#8fc852" stroke="#6aa43a" stroke-width="1.2"/><rect x="940.15" y="1971.95" width="33.20" height="142.55" fill="#9fa3d8" stroke="#686db3" stroke-width="1.5"/><rect x="977.10" y="1961.90" width="33.70" height="152.60" fill="#04693a" stroke="#0a4a2a" stroke-width="1.2"/><line x1="861.90" y1="1907.80" x2="861.90" y2="1960.70" stroke="#e2564c" stroke-width="1.3"/><line x1="859.10" y1="1907.80" x2="864.70" y2="1907.80" stroke="#e2564c" stroke-width="1.3"/><line x1="859.10" y1="1960.70" x2="864.70" y2="1960.70" stroke="#e2564c" stroke-width="1.3"/><line x1="899.70" y1="1991.50" x2="899.70" y2="2020.40" stroke="#6aa43a" stroke-width="1.3"/><line x1="896.90" y1="1991.50" x2="902.50" y2="1991.50" stroke="#6aa43a" stroke-width="1.3"/><line x1="896.90" y1="2020.40" x2="902.50" y2="2020.40" stroke="#6aa43a" stroke-width="1.3"/><line x1="956.80" y1="1936.50" x2="956.80" y2="2006.10" stroke="#686db3" stroke-width="1.5"/><line x1="954.00" y1="1936.50" x2="959.60" y2="1936.50" stroke="#686db3" stroke-width="1.5"/><line x1="954.00" y1="2006.10" x2="959.60" y2="2006.10" stroke="#686db3" stroke-width="1.5"/><line x1="993.80" y1="1925.80" x2="993.80" y2="1997.10" stroke="#0a4a2a" stroke-width="1.5"/><line x1="991.00" y1="1925.80" x2="996.60" y2="1925.80" stroke="#0a4a2a" stroke-width="1.5"/><line x1="991.00" y1="1997.10" x2="996.60" y2="1997.10" stroke="#0a4a2a" stroke-width="1.5"/><line x1="862.20" y1="1898.00" x2="901.70" y2="1898.00" stroke="#555" stroke-width="1.1"/><text x="881.90" y="1900.70" text-anchor="middle" font-size="14.3" fill="#333">***</text><line x1="884.50" y1="1885.70" x2="981.60" y2="1885.70" stroke="#555" stroke-width="1.1"/><text x="932.30" y="1882.40" text-anchor="middle" font-size="13.5" fill="#333" font-weight="700">n.s.</text><line x1="958.60" y1="1915.30" x2="995.60" y2="1915.30" stroke="#555" stroke-width="1.1"/><text x="976.80" y="1912.30" text-anchor="middle" font-size="13.5" fill="#333" font-weight="700">n.s.</text><line x1="1118.00" y1="1906.00" x2="1118.00" y2="2115.10" stroke="#8a8f94" stroke-width="1"/><line x1="1118.00" y1="2115.10" x2="1330.10" y2="2115.10" stroke="#8a8f94" stroke-width="1"/><line x1="1118.00" y1="2115.10" x2="1121.00" y2="2115.10" stroke="#8a8f94" stroke-width="1"/><text transform="translate(1112.40 2120.25) scale(1.13 1)" text-anchor="end" font-size="14.5" fill="#4a4a4a">0</text><line x1="1118.00" y1="2080.25" x2="1121.00" y2="2080.25" stroke="#8a8f94" stroke-width="1"/><text transform="translate(1112.40 2085.40) scale(1.13 1)" text-anchor="end" font-size="14.5" fill="#4a4a4a">0.02</text><line x1="1118.00" y1="2045.40" x2="1121.00" y2="2045.40" stroke="#8a8f94" stroke-width="1"/><text transform="translate(1112.40 2050.55) scale(1.13 1)" text-anchor="end" font-size="14.5" fill="#4a4a4a">0.04</text><line x1="1118.00" y1="2010.55" x2="1121.00" y2="2010.55" stroke="#8a8f94" stroke-width="1"/><text transform="translate(1112.40 2015.70) scale(1.13 1)" text-anchor="end" font-size="14.5" fill="#4a4a4a">0.06</text><line x1="1118.00" y1="1975.70" x2="1121.00" y2="1975.70" stroke="#8a8f94" stroke-width="1"/><text transform="translate(1112.40 1980.85) scale(1.13 1)" text-anchor="end" font-size="14.5" fill="#4a4a4a">0.08</text><line x1="1118.00" y1="1940.85" x2="1121.00" y2="1940.85" stroke="#8a8f94" stroke-width="1"/><text transform="translate(1112.40 1946.00) scale(1.13 1)" text-anchor="end" font-size="14.5" fill="#4a4a4a">0.1</text><line x1="1118.00" y1="1906.00" x2="1121.00" y2="1906.00" stroke="#8a8f94" stroke-width="1"/><text transform="translate(1112.40 1911.15) scale(1.13 1)" text-anchor="end" font-size="14.5" fill="#4a4a4a">0.12</text><rect x="1148.00" y="2030.70" width="33.60" height="84.40" fill="#fbac45" stroke="#f5981f" stroke-width="1.4"/><rect x="1185.90" y="2059.90" width="33.40" height="55.20" fill="#dc1a5a" stroke="#d01555" stroke-width="1.2"/><rect x="1243.60" y="1948.60" width="33.50" height="166.50" fill="#924982" stroke="#8d3a80" stroke-width="1.4"/><rect x="1281.60" y="1943.60" width="33.40" height="171.50" fill="#5cc4bb" stroke="#1fa9a4" stroke-width="1.6"/><line x1="1164.60" y1="2016.60" x2="1164.60" y2="2044.30" stroke="#f5981f" stroke-width="1.3"/><line x1="1161.80" y1="2016.60" x2="1167.40" y2="2016.60" stroke="#f5981f" stroke-width="1.3"/><line x1="1161.80" y1="2044.30" x2="1167.40" y2="2044.30" stroke="#f5981f" stroke-width="1.3"/><line x1="1202.60" y1="2050.00" x2="1202.60" y2="2068.20" stroke="#c2244f" stroke-width="1.3"/><line x1="1199.80" y1="2050.00" x2="1205.40" y2="2050.00" stroke="#c2244f" stroke-width="1.3"/><line x1="1199.80" y1="2068.20" x2="1205.40" y2="2068.20" stroke="#c2244f" stroke-width="1.3"/><line x1="1260.20" y1="1926.40" x2="1260.20" y2="1968.80" stroke="#8d2a90" stroke-width="1.5"/><line x1="1257.40" y1="1926.40" x2="1263.00" y2="1926.40" stroke="#8d2a90" stroke-width="1.5"/><line x1="1257.40" y1="1968.80" x2="1263.00" y2="1968.80" stroke="#8d2a90" stroke-width="1.5"/><line x1="1298.20" y1="1915.00" x2="1298.20" y2="1970.30" stroke="#1fa9a4" stroke-width="1.5"/><line x1="1295.40" y1="1915.00" x2="1301.00" y2="1915.00" stroke="#1fa9a4" stroke-width="1.5"/><line x1="1295.40" y1="1970.30" x2="1301.00" y2="1970.30" stroke="#1fa9a4" stroke-width="1.5"/><line x1="1164.60" y1="2007.30" x2="1204.70" y2="2007.30" stroke="#555" stroke-width="1.1"/><text x="1184.70" y="2010.00" text-anchor="middle" font-size="14.3" fill="#333">***</text><line x1="1182.30" y1="1892.30" x2="1278.10" y2="1892.30" stroke="#555" stroke-width="1.1"/><text x="1233.30" y="1895.00" text-anchor="middle" font-size="14.3" fill="#333">***</text><line x1="1261.40" y1="1905.10" x2="1297.60" y2="1905.10" stroke="#555" stroke-width="1.1"/><text x="1279.00" y="1902.30" text-anchor="middle" font-size="13.5" fill="#333" font-weight="700">n.s.</text><line x1="1467.40" y1="1840.60" x2="1467.40" y2="2149.50" stroke="#9a9a9a" stroke-width="1"/><line x1="1467.40" y1="2149.50" x2="1734.60" y2="2149.50" stroke="#9a9a9a" stroke-width="1"/><line x1="1467.40" y1="2149.50" x2="1470.80" y2="2149.50" stroke="#9a9a9a" stroke-width="1"/><text transform="translate(1462.90 2154.40) scale(1.13 1)" text-anchor="end" font-size="13.8" fill="#4a4a4a">0</text><line x1="1467.40" y1="2098.02" x2="1470.80" y2="2098.02" stroke="#9a9a9a" stroke-width="1"/><text transform="translate(1462.90 2102.92) scale(1.13 1)" text-anchor="end" font-size="13.8" fill="#4a4a4a">0.2</text><line x1="1467.40" y1="2046.53" x2="1470.80" y2="2046.53" stroke="#9a9a9a" stroke-width="1"/><text transform="translate(1462.90 2051.43) scale(1.13 1)" text-anchor="end" font-size="13.8" fill="#4a4a4a">0.4</text><line x1="1467.40" y1="1995.05" x2="1470.80" y2="1995.05" stroke="#9a9a9a" stroke-width="1"/><text transform="translate(1462.90 1999.95) scale(1.13 1)" text-anchor="end" font-size="13.8" fill="#4a4a4a">0.6</text><line x1="1467.40" y1="1943.57" x2="1470.80" y2="1943.57" stroke="#9a9a9a" stroke-width="1"/><text transform="translate(1462.90 1948.47) scale(1.13 1)" text-anchor="end" font-size="13.8" fill="#4a4a4a">0.8</text><line x1="1467.40" y1="1892.08" x2="1470.80" y2="1892.08" stroke="#9a9a9a" stroke-width="1"/><text transform="translate(1462.90 1896.98) scale(1.13 1)" text-anchor="end" font-size="13.8" fill="#4a4a4a">1</text><line x1="1467.40" y1="1840.60" x2="1470.80" y2="1840.60" stroke="#9a9a9a" stroke-width="1"/><text transform="translate(1462.90 1845.50) scale(1.13 1)" text-anchor="end" font-size="13.8" fill="#4a4a4a">1.2</text><rect x="1512.60" y="1902.20" width="85.10" height="247.30" fill="#924982" stroke="#924982" stroke-width="1"/><rect x="1627.55" y="1895.25" width="82.50" height="254.25" fill="#6ec8bd" stroke="#49bdb1" stroke-width="1.3"/><line x1="1555.20" y1="1871.00" x2="1555.20" y2="1933.40" stroke="#8d2a90" stroke-width="1.5"/><line x1="1552.40" y1="1871.00" x2="1558.00" y2="1871.00" stroke="#8d2a90" stroke-width="1.5"/><line x1="1552.40" y1="1933.40" x2="1558.00" y2="1933.40" stroke="#8d2a90" stroke-width="1.5"/><line x1="1671.30" y1="1855.80" x2="1671.30" y2="1938.20" stroke="#1fa9a4" stroke-width="1.5"/><line x1="1668.50" y1="1855.80" x2="1674.10" y2="1855.80" stroke="#1fa9a4" stroke-width="1.5"/><line x1="1668.50" y1="1938.20" x2="1674.10" y2="1938.20" stroke="#1fa9a4" stroke-width="1.5"/><line x1="1556.00" y1="1847.40" x2="1671.30" y2="1847.40" stroke="#555" stroke-width="1.1"/><text x="1613.40" y="1844.00" text-anchor="middle" font-size="14.5" fill="#333" font-weight="700">n.s.</text></svg>
<span class="t" style="left:76.7px;top:1593.0px;font-size:22.5px;color:#1d1a1b;transform-origin:0 19.0px;transform:rotate(-90deg) scaleX(0.8473);-webkit-text-stroke:0.450px #1d1a1b;">Eda Mean [µV]</span>
<span class="t" style="left:447.3px;top:1594.0px;font-size:22.5px;color:#1d1a1b;transform-origin:0 19.0px;transform:rotate(-90deg) scaleX(0.8988);-webkit-text-stroke:0.450px #1d1a1b;">Distance [cm]</span>
<span class="t" style="left:938.3px;top:1588.0px;font-size:22.5px;color:#1d1a1b;transform-origin:0 19.0px;transform:rotate(-90deg) scaleX(0.8878);-webkit-text-stroke:0.450px #1d1a1b;">Distance [cm]</span>
<span class="t" style="left:1423.9px;top:1576.2px;font-size:22.5px;color:#1d1a1b;transform-origin:0 19.0px;transform:rotate(-90deg) scaleX(0.8440);-webkit-text-stroke:0.450px #1d1a1b;">Eda Mean [µV]</span>
<span class="t" style="left:76.7px;top:2045.8px;font-size:22.5px;color:#1d1a1b;transform-origin:0 19.0px;transform:rotate(-90deg) scaleX(0.8440);-webkit-text-stroke:0.450px #1d1a1b;">Eda Mean [µV]</span>
<span class="t" style="left:488.8px;top:2057.3px;font-size:22.5px;color:#1d1a1b;transform-origin:0 19.0px;transform:rotate(-90deg) scaleX(0.8922);-webkit-text-stroke:0.450px #1d1a1b;">Distance [cm]</span>
<span class="t" style="left:769.5px;top:2059.7px;font-size:22.5px;color:#1d1a1b;transform-origin:0 19.0px;transform:rotate(-90deg) scaleX(0.8446);-webkit-text-stroke:0.450px #1d1a1b;">Eda Mean [µV]</span>
<span class="t" style="left:1070.2px;top:2059.7px;font-size:22.5px;color:#1d1a1b;transform-origin:0 19.0px;transform:rotate(-90deg) scaleX(0.8446);-webkit-text-stroke:0.450px #1d1a1b;">Eda Mean [µV]</span>
<span class="t" style="left:1423.4px;top:2057.3px;font-size:22.5px;color:#1d1a1b;transform-origin:0 19.0px;transform:rotate(-90deg) scaleX(0.8440);-webkit-text-stroke:0.450px #1d1a1b;">Eda Mean [µV]</span>
<span class="t" style="left:187.5px;top:1691.9px;font-size:13.8px;color:#1a1a1a;font-weight:700;transform:scaleX(1.0357);">Active</span>
<span class="t" style="left:298.6px;top:1691.9px;font-size:13.8px;color:#1a1a1a;font-weight:700;transform:scaleX(1.0231);">Passive</span>
<span class="t" style="left:215.3px;top:1707.4px;font-size:19.3px;color:#1a1a1a;font-weight:700;transform:scaleX(1.0580);">Approach</span>
<span class="t" style="left:579.2px;top:1692.4px;font-size:13.8px;color:#1a1a1a;font-weight:700;transform:scaleX(1.0309);">Active</span>
<span class="t" style="left:750.3px;top:1692.4px;font-size:13.8px;color:#1a1a1a;font-weight:700;transform:scaleX(1.0114);">Passive</span>
<span class="t" style="left:641.6px;top:1707.2px;font-size:19.3px;color:#1a1a1a;font-weight:700;transform:scaleX(1.0480);">Approach</span>
<span class="t" style="left:1059.4px;top:1692.4px;font-size:13.8px;color:#1a1a1a;font-weight:700;transform:scaleX(1.0309);">Active</span>
<span class="t" style="left:1229.9px;top:1692.4px;font-size:13.8px;color:#1a1a1a;font-weight:700;transform:scaleX(1.0172);">Passive</span>
<span class="t" style="left:1123.6px;top:1707.2px;font-size:19.3px;color:#1a1a1a;font-weight:700;transform:scaleX(1.0480);">Approach</span>
<span class="t" style="left:1536.3px;top:1692.4px;font-size:13.8px;color:#1a1a1a;font-weight:700;transform:scaleX(1.0333);">Active</span>
<span class="t" style="left:1647.4px;top:1692.4px;font-size:13.8px;color:#1a1a1a;font-weight:700;transform:scaleX(1.0231);">Passive</span>
<span class="t" style="left:1581.3px;top:1711.1px;font-size:15px;color:#1a1a1a;font-weight:700;transform:scaleX(1.0256);">Approach</span>
<span class="t" style="left:205.2px;top:2154.8px;font-size:15.3px;color:#1a1a1a;font-weight:700;transform:scaleX(1.0610);">Near</span>
<span class="t" style="left:344.4px;top:2154.8px;font-size:15.3px;color:#1a1a1a;font-weight:700;transform:scaleX(1.0080);">Far</span>
<span class="t" style="left:1540.3px;top:2153.9px;font-size:15.3px;color:#1a1a1a;font-weight:700;transform:scaleX(1.0405);">Near</span>
<span class="t" style="left:1659.8px;top:2153.9px;font-size:15.3px;color:#1a1a1a;font-weight:700;transform:scaleX(1.0038);">Far</span>
<span class="t" style="left:342.9px;top:1808.8px;font-size:10.6px;color:#333;transform:scaleX(0.9638);">Same Gender</span>
<span class="t" style="left:342.9px;top:1821.1px;font-size:10.6px;color:#333;">Opposite Gender</span>
<span class="t" style="left:556.3px;top:2121.7px;font-size:12.6px;color:#222;transform:scaleX(0.9763);-webkit-text-stroke:0.300px #222;">Active</span>
<span class="t" style="left:595.8px;top:2121.7px;font-size:12.6px;color:#222;transform:scaleX(0.8590);-webkit-text-stroke:0.300px #222;">Passive</span>
<span class="t" style="left:653.4px;top:2121.7px;font-size:12.6px;color:#222;transform:scaleX(0.9588);-webkit-text-stroke:0.300px #222;">Active</span>
<span class="t" style="left:689.3px;top:2121.7px;font-size:12.6px;color:#222;transform:scaleX(0.8658);-webkit-text-stroke:0.300px #222;">Passive</span>
<span class="t" style="left:843.1px;top:2121.7px;font-size:12.6px;color:#222;transform:scaleX(0.9734);-webkit-text-stroke:0.300px #222;">Active</span>
<span class="t" style="left:882.4px;top:2121.7px;font-size:12.6px;color:#222;transform:scaleX(0.8726);-webkit-text-stroke:0.300px #222;">Passive</span>
<span class="t" style="left:939.7px;top:2121.7px;font-size:12.6px;color:#222;transform:scaleX(0.9763);-webkit-text-stroke:0.300px #222;">Active</span>
<span class="t" style="left:977.7px;top:2121.7px;font-size:12.6px;color:#222;transform:scaleX(0.8658);-webkit-text-stroke:0.300px #222;">Passive</span>
<span class="t" style="left:1155.1px;top:2121.7px;font-size:12.6px;color:#222;transform:scaleX(0.8971);-webkit-text-stroke:0.300px #222;">Near</span>
<span class="t" style="left:1197.2px;top:2121.7px;font-size:12.6px;color:#222;transform:scaleX(0.8836);-webkit-text-stroke:0.300px #222;">Far</span>
<span class="t" style="left:1249.5px;top:2121.7px;font-size:12.6px;color:#222;transform:scaleX(0.8861);-webkit-text-stroke:0.300px #222;">Near</span>
<span class="t" style="left:1289.2px;top:2121.7px;font-size:12.6px;color:#222;transform:scaleX(0.9153);-webkit-text-stroke:0.300px #222;">Far</span>
<span class="t" style="left:563.5px;top:2137.6px;font-size:19.6px;color:#111;font-weight:700;transform:scaleX(1.0342);">Human</span>
<span class="t" style="left:657.9px;top:2137.6px;font-size:19.6px;color:#111;font-weight:700;transform:scaleX(1.0624);">Object</span>
<span class="t" style="left:854.1px;top:2137.6px;font-size:19.6px;color:#111;font-weight:700;transform:scaleX(1.0327);">Human</span>
<span class="t" style="left:943.6px;top:2137.6px;font-size:19.6px;color:#111;font-weight:700;transform:scaleX(1.0723);">Object</span>
<span class="t" style="left:1152.4px;top:2137.6px;font-size:19.6px;color:#111;font-weight:700;transform:scaleX(1.0252);">Human</span>
<span class="t" style="left:1246.8px;top:2137.6px;font-size:19.6px;color:#111;font-weight:700;transform:scaleX(1.0723);">Object</span>
<span class="t" style="left:69.6px;top:1738.4px;font-size:15.3px;color:#2f2b2d;transform:scaleX(1.0406);word-spacing:8.06px;-webkit-text-stroke:0.300px #2f2b2d;">Participants showed a higher activation in the</span>
<span class="t" style="left:69.6px;top:1758.5px;font-size:15.3px;color:#2f2b2d;transform:scaleX(1.0406);-webkit-text-stroke:0.300px #2f2b2d;">Active Approach compared to the Passive Approach</span>
<span class="t" style="left:494.7px;top:1738.0px;font-size:15.3px;color:#2f2b2d;transform:scaleX(1.0434);word-spacing:4.58px;-webkit-text-stroke:0.300px #2f2b2d;">Participants maintained a greater distance in the</span>
<span class="t" style="left:494.7px;top:1758.3px;font-size:15.3px;color:#2f2b2d;transform:scaleX(1.0434);-webkit-text-stroke:0.300px #2f2b2d;">Passive Approach compared to the Active Approach</span>
<span class="t" style="left:957.2px;top:1738.0px;font-size:15.3px;color:#2f2b2d;transform:scaleX(1.0417);word-spacing:4.59px;-webkit-text-stroke:0.300px #2f2b2d;">Participants maintained a greater distance in the</span>
<span class="t" style="left:957.2px;top:1758.3px;font-size:15.3px;color:#2f2b2d;transform:scaleX(1.0417);-webkit-text-stroke:0.300px #2f2b2d;">Passive Approach compared to the Active Approach</span>
<span class="t" style="left:1428.9px;top:1738.9px;font-size:15.3px;color:#2f2b2d;transform:scaleX(1.0713);-webkit-text-stroke:0.300px #2f2b2d;">Participants showed no activation difference</span>
<span class="t" style="left:1428.9px;top:1759.1px;font-size:15.3px;color:#2f2b2d;transform:scaleX(1.0713);-webkit-text-stroke:0.300px #2f2b2d;">between two conditions</span>
<span class="t" style="left:52.1px;top:2170.4px;font-size:15.6px;color:#2f2b2d;transform:scaleX(1.0183);-webkit-text-stroke:0.300px #2f2b2d;">No difference between Same and Opposite Gender</span>
<span class="t" style="left:52.1px;top:2209.9px;font-size:15.6px;color:#2f2b2d;transform:scaleX(1.0417);-webkit-text-stroke:0.300px #2f2b2d;">Participants showed higher activation for Near</span>
<span class="t" style="left:52.1px;top:2229.6px;font-size:15.6px;color:#2f2b2d;transform:scaleX(1.0309);-webkit-text-stroke:0.300px #2f2b2d;">compared to Far Condition</span>
<span class="t" style="left:463.5px;top:2170.0px;font-size:15.6px;color:#2f2b2d;transform:scaleX(1.0619);-webkit-text-stroke:0.300px #2f2b2d;">Participants maintained a greater di-</span>
<span class="t" style="left:463.5px;top:2189.4px;font-size:15.6px;color:#2f2b2d;transform:scaleX(1.0134);word-spacing:4.30px;-webkit-text-stroke:0.300px #2f2b2d;">stance with the Obect compared to</span>
<span class="t" style="left:463.5px;top:2209.5px;font-size:15.6px;color:#2f2b2d;transform:scaleX(1.0062);-webkit-text-stroke:0.300px #2f2b2d;">Human. Greatest distances are obser-</span>
<span class="t" style="left:463.5px;top:2229.2px;font-size:15.6px;color:#2f2b2d;transform:scaleX(1.0134);-webkit-text-stroke:0.300px #2f2b2d;">ved in the Passive Condition</span>
<span class="t" style="left:757.7px;top:2170.0px;font-size:15.6px;color:#2f2b2d;transform:scaleX(1.0828);word-spacing:2.23px;-webkit-text-stroke:0.300px #2f2b2d;">No difference between Human and</span>
<span class="t" style="left:757.7px;top:2189.4px;font-size:15.6px;color:#2f2b2d;transform:scaleX(1.0828);-webkit-text-stroke:0.300px #2f2b2d;">Object. Only in the Human condition</span>
<span class="t" style="left:757.7px;top:2209.5px;font-size:15.6px;color:#2f2b2d;transform:scaleX(1.0903);-webkit-text-stroke:0.300px #2f2b2d;">there was greater Eda for the Active</span>
<span class="t" style="left:757.7px;top:2229.2px;font-size:15.6px;color:#2f2b2d;transform:scaleX(0.9883);-webkit-text-stroke:0.300px #2f2b2d;">Approach</span>
<span class="t" style="left:1045.8px;top:2170.6px;font-size:15.6px;color:#2f2b2d;transform:scaleX(1.1088);-webkit-text-stroke:0.300px #2f2b2d;">Greater activation is observed with the</span>
<span class="t" style="left:1045.8px;top:2190.3px;font-size:15.6px;color:#2f2b2d;transform:scaleX(1.1088);word-spacing:2.38px;-webkit-text-stroke:0.300px #2f2b2d;">Object, regardless of space invasion,</span>
<span class="t" style="left:1045.8px;top:2210.3px;font-size:15.6px;color:#2f2b2d;transform:scaleX(1.1088);word-spacing:3.10px;-webkit-text-stroke:0.300px #2f2b2d;">whereas this difference occured only</span>
<span class="t" style="left:1045.8px;top:2229.8px;font-size:15.6px;color:#2f2b2d;transform:scaleX(1.0472);-webkit-text-stroke:0.300px #2f2b2d;">with the Human</span>
<span class="t" style="left:1409.5px;top:2187.5px;font-size:15.6px;color:#2f2b2d;transform:scaleX(1.0507);word-spacing:3.28px;-webkit-text-stroke:0.300px #2f2b2d;">Participants showed no activation difference</span>
<span class="t" style="left:1409.5px;top:2207.1px;font-size:15.6px;color:#2f2b2d;transform:scaleX(1.0507);-webkit-text-stroke:0.300px #2f2b2d;">between two conditions</span>
<div class="a" style="left:23px;top:2291.500px;width:1228.500px;height:259.300px;border:2.700px solid #8fc3da;border-radius:31px;box-sizing:border-box"></div>
<div class="a" style="left:20.700px;top:2270.800px;width:460.500px;height:42px;border:4.600px solid #8fc3da;border-radius:21px;box-sizing:border-box;background:#fff"></div>
<span class="t" style="left:165.3px;top:2277.5px;font-size:26.3px;color:#231f20;font-weight:700;transform:scaleX(0.9684);">CONCLUSION</span>
<span class="t" style="left:48.8px;top:2341.2px;font-size:19px;color:#2b2729;-webkit-text-stroke:0.3px #2b2729;">•</span>
<span class="t" style="left:48.8px;top:2375.8px;font-size:19px;color:#2b2729;-webkit-text-stroke:0.3px #2b2729;">•</span>
<span class="t" style="left:48.8px;top:2429.6px;font-size:19px;color:#2b2729;-webkit-text-stroke:0.3px #2b2729;">•</span>
<span class="t" style="left:65.7px;top:2340.7px;font-size:19px;color:#2b2729;transform:scaleX(0.9969);-webkit-text-stroke:0.3px #2b2729;">When a social interaction is less predictable [Passive Approach], people prefer to keep a greater distance</span>
<span class="t" style="left:65.7px;top:2375.3px;font-size:19px;color:#2b2729;transform:scaleX(0.9872);-webkit-text-stroke:0.3px #2b2729;">Greater physiological activation is observed when a person has more control [Active Approach] and is more engaged in the decision-making</span>
<span class="t" style="left:65.7px;top:2395.2px;font-size:19px;color:#2b2729;-webkit-text-stroke:0.3px #2b2729;">process regarding IPD. No significant differences emerge when interactig with the Object, underlying the unique nature of IPD</span>
<span class="t" style="left:65.7px;top:2429.1px;font-size:19px;color:#2b2729;transform:scaleX(0.9966);-webkit-text-stroke:0.3px #2b2729;">During space invasion, discomfort arises only during a human to human (and not during human to object) interaction</span>
<span class="t" style="left:81.6px;top:2472.5px;font-size:23.3px;color:#2a2470;font-weight:700;transform:scaleX(0.8903);">The modulation observed highlights that Interpersonal Distance has a key role in regulating our personal space,</span>
<span class="t" style="left:392.3px;top:2500.4px;font-size:23.3px;color:#2a2470;font-weight:700;transform:scaleX(0.8860);">ensuring safety and comfort in social interactions</span>
<div class="a" style="left:1257px;top:2289px;width:512.500px;height:257px;border:2.700px solid #8fc3da;border-radius:29px;box-sizing:border-box"></div>
<div class="a" style="left:1282.900px;top:2268.600px;width:460.300px;height:42.200px;border:4.600px solid #8fc3da;border-radius:21.100px;box-sizing:border-box;background:#fff"></div>
<span class="t" style="left:1427.5px;top:2276.9px;font-size:26.3px;color:#231f20;font-weight:700;transform:scaleX(0.9558);">REFERENCES</span>
<span class="t" style="left:1266.8px;top:2326.4px;font-size:11px;color:#222;">•</span>
<span class="t" style="left:1284.0px;top:2321.6px;font-size:16.6px;color:#222;transform:scaleX(0.8320);">Hayduk, L. A. (1978). Personal space: An evaluative and orienting overview.</span>
<span class="t" style="left:1284.0px;top:2339.8px;font-size:16.6px;color:#222;transform:scaleX(0.8294);">Psychological Bulletin, 85(1), 117–134.</span>
<span class="t" style="left:1266.8px;top:2363.2px;font-size:11px;color:#222;">•</span>
<span class="t" style="left:1284.0px;top:2358.4px;font-size:16.6px;color:#222;transform:scaleX(0.8194);">Hayduk, L. A. (1983). Personal space: Where we now stand. Psychological</span>
<span class="t" style="left:1284.0px;top:2376.6px;font-size:16.6px;color:#222;transform:scaleX(0.8204);">Bulletin, 94(2), 293–335.</span>
<span class="t" style="left:1266.8px;top:2399.9px;font-size:11px;color:#222;">•</span>
<span class="t" style="left:1284.0px;top:2395.1px;font-size:16.6px;color:#222;transform:scaleX(0.7952);">Kennedy, D. P., Gläscher, J., Tyszka, J. M., &amp; Adolphs, R. (2009). Personal space</span>
<span class="t" style="left:1284.0px;top:2413.7px;font-size:16.6px;color:#222;transform:scaleX(0.8607);">regulation by the human amygdala.</span>
<span class="t" style="left:1284.0px;top:2431.9px;font-size:16.6px;color:#222;transform:scaleX(0.8236);">Nature neuroscience, 12(10), 1226–1227.</span>
<span class="t" style="left:1266.8px;top:2455.3px;font-size:11px;color:#222;">•</span>
<span class="t" style="left:1284.0px;top:2450.5px;font-size:16.6px;color:#222;transform:scaleX(0.8111);">Welsch, R., von Castell, C., &amp; Hecht, H. (2019). The anisotropy of personal</span>
<span class="t" style="left:1284.0px;top:2468.7px;font-size:16.6px;color:#222;transform:scaleX(0.7967);">space. PloS one, 14(6), e0217587.</span>
<span class="t" style="left:1266.8px;top:2492.4px;font-size:11px;color:#222;">•</span>
<span class="t" style="left:1284.0px;top:2487.6px;font-size:16.6px;color:#222;transform:scaleX(0.8032);">Candini, M., Battaglia, S., Benassi, M., di Pellegrino, G., &amp; Frassinetti, F. (2021).</span>
<span class="t" style="left:1284.0px;top:2505.8px;font-size:16.6px;color:#222;transform:scaleX(0.8399);">The physiological correlates of interpersonal space. Scientific reports, 11(1),</span>
<span class="t" style="left:1284.0px;top:2524.3px;font-size:16.6px;color:#222;transform:scaleX(0.8261);">2611.</span>
</body></html>
